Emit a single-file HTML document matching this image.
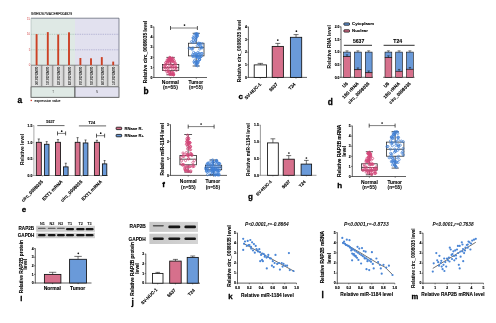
<!DOCTYPE html>
<html><head><meta charset="utf-8"><style>
html,body{margin:0;padding:0;background:#fff;width:496px;height:323px;overflow:hidden}
svg{display:block;will-change:transform;filter:blur(0.3px)}
text{font-family:"Liberation Sans", sans-serif}
</style></head><body>
<svg width="496" height="323" viewBox="0 0 496 323">
<defs>
<linearGradient id="gbox" x1="0" x2="1" y1="0" y2="0">
<stop offset="0" stop-color="#b4b4b4"/><stop offset="0.14" stop-color="#e0e0e0"/><stop offset="0.5" stop-color="#e8e8e8"/><stop offset="0.85" stop-color="#d4d4d4"/><stop offset="1" stop-color="#a8a8a8"/>
</linearGradient>
<linearGradient id="blot" x1="0" x2="1" y1="0" y2="0">
<stop offset="0" stop-color="#c8c8c8"/><stop offset="1" stop-color="#d4d4d4"/>
</linearGradient>
<filter id="blur" x="-30%" y="-80%" width="160%" height="260%"><feGaussianBlur stdDeviation="0.45"/></filter>
</defs>
<rect x="31.00" y="18.20" width="44.00" height="47.10" fill="#dfe9e5" stroke="none" stroke-width="0.6"/>
<rect x="75.00" y="18.20" width="44.00" height="47.10" fill="#e2e1ef" stroke="none" stroke-width="0.6"/>
<line x1="31.00" y1="49.80" x2="75.00" y2="49.80" stroke="#7fae9c" stroke-width="0.45" stroke-dasharray="1.4,0.9"/>
<line x1="75.00" y1="49.80" x2="119.00" y2="49.80" stroke="#8484b8" stroke-width="0.45" stroke-dasharray="1.4,0.9"/>
<line x1="31.00" y1="34.30" x2="75.00" y2="34.30" stroke="#7fae9c" stroke-width="0.45" stroke-dasharray="1.4,0.9"/>
<line x1="75.00" y1="34.30" x2="119.00" y2="34.30" stroke="#8484b8" stroke-width="0.45" stroke-dasharray="1.4,0.9"/>
<line x1="31.00" y1="18.20" x2="119.00" y2="18.20" stroke="#555a6a" stroke-width="0.7"/>
<line x1="119.00" y1="18.20" x2="119.00" y2="65.30" stroke="#555a6a" stroke-width="0.7"/>
<line x1="31.00" y1="18.20" x2="31.00" y2="65.30" stroke="#9aa" stroke-width="0.5"/>
<line x1="31.00" y1="65.30" x2="119.00" y2="65.30" stroke="#444" stroke-width="0.8"/>
<text x="30.20" y="66.30" font-size="2.8" text-anchor="end" font-weight="normal" fill="#d04040">0</text>
<text x="30.20" y="50.80" font-size="2.8" text-anchor="end" font-weight="normal" fill="#d04040">5</text>
<text x="30.20" y="35.30" font-size="2.8" text-anchor="end" font-weight="normal" fill="#d04040">10</text>
<text x="30.20" y="19.80" font-size="2.8" text-anchor="end" font-weight="normal" fill="#d04040">15</text>
<text x="31.00" y="15.10" font-size="3.45" text-anchor="start" font-weight="normal" fill="#111" stroke="#111" stroke-width="0.1">GSE92675/ACERP004929</text>
<rect x="35.65" y="34.10" width="1.90" height="31.20" fill="#cc4125" stroke="none" stroke-width="0.6"/>
<rect x="46.85" y="32.10" width="1.90" height="33.20" fill="#cc4125" stroke="none" stroke-width="0.6"/>
<rect x="57.25" y="34.50" width="1.90" height="30.80" fill="#cc4125" stroke="none" stroke-width="0.6"/>
<rect x="68.05" y="32.30" width="1.90" height="33.00" fill="#cc4125" stroke="none" stroke-width="0.6"/>
<rect x="79.45" y="58.00" width="1.90" height="7.30" fill="#cc4125" stroke="none" stroke-width="0.6"/>
<rect x="90.05" y="58.30" width="1.90" height="7.00" fill="#cc4125" stroke="none" stroke-width="0.6"/>
<rect x="100.85" y="57.10" width="1.90" height="8.20" fill="#cc4125" stroke="none" stroke-width="0.6"/>
<rect x="112.25" y="61.60" width="1.90" height="3.70" fill="#cc4125" stroke="none" stroke-width="0.6"/>
<rect x="31.00" y="65.7" width="11" height="20.4" fill="url(#gbox)"/>
<line x1="42.00" y1="65.70" x2="42.00" y2="86.10" stroke="#555" stroke-width="0.6"/>
<text x="35.10" y="75.90" font-size="3.0" text-anchor="middle" font-weight="normal" fill="#222" stroke="#222" stroke-width="0.08" transform="rotate(90 35.10 75.90)">GSM2434100</text>
<rect x="42.00" y="65.7" width="11" height="20.4" fill="url(#gbox)"/>
<line x1="53.00" y1="65.70" x2="53.00" y2="86.10" stroke="#555" stroke-width="0.6"/>
<text x="46.10" y="75.90" font-size="3.0" text-anchor="middle" font-weight="normal" fill="#222" stroke="#222" stroke-width="0.08" transform="rotate(90 46.10 75.90)">GSM2434101</text>
<rect x="53.00" y="65.7" width="11" height="20.4" fill="url(#gbox)"/>
<line x1="64.00" y1="65.70" x2="64.00" y2="86.10" stroke="#555" stroke-width="0.6"/>
<text x="57.10" y="75.90" font-size="3.0" text-anchor="middle" font-weight="normal" fill="#222" stroke="#222" stroke-width="0.08" transform="rotate(90 57.10 75.90)">GSM2434102</text>
<rect x="64.00" y="65.7" width="11" height="20.4" fill="url(#gbox)"/>
<line x1="75.00" y1="65.70" x2="75.00" y2="86.10" stroke="#555" stroke-width="0.6"/>
<text x="68.10" y="75.90" font-size="3.0" text-anchor="middle" font-weight="normal" fill="#222" stroke="#222" stroke-width="0.08" transform="rotate(90 68.10 75.90)">GSM2434103</text>
<rect x="75.00" y="65.7" width="11" height="20.4" fill="url(#gbox)"/>
<line x1="86.00" y1="65.70" x2="86.00" y2="86.10" stroke="#555" stroke-width="0.6"/>
<text x="79.10" y="75.90" font-size="3.0" text-anchor="middle" font-weight="normal" fill="#222" stroke="#222" stroke-width="0.08" transform="rotate(90 79.10 75.90)">GSM2434104</text>
<rect x="86.00" y="65.7" width="11" height="20.4" fill="url(#gbox)"/>
<line x1="97.00" y1="65.70" x2="97.00" y2="86.10" stroke="#555" stroke-width="0.6"/>
<text x="90.10" y="75.90" font-size="3.0" text-anchor="middle" font-weight="normal" fill="#222" stroke="#222" stroke-width="0.08" transform="rotate(90 90.10 75.90)">GSM2434105</text>
<rect x="97.00" y="65.7" width="11" height="20.4" fill="url(#gbox)"/>
<line x1="108.00" y1="65.70" x2="108.00" y2="86.10" stroke="#555" stroke-width="0.6"/>
<text x="101.10" y="75.90" font-size="3.0" text-anchor="middle" font-weight="normal" fill="#222" stroke="#222" stroke-width="0.08" transform="rotate(90 101.10 75.90)">GSM2434106</text>
<rect x="108.00" y="65.7" width="11" height="20.4" fill="url(#gbox)"/>
<line x1="119.00" y1="65.70" x2="119.00" y2="86.10" stroke="#555" stroke-width="0.6"/>
<text x="112.10" y="75.90" font-size="3.0" text-anchor="middle" font-weight="normal" fill="#222" stroke="#222" stroke-width="0.08" transform="rotate(90 112.10 75.90)">GSM2434107</text>
<line x1="31.00" y1="65.70" x2="31.00" y2="86.10" stroke="#777" stroke-width="0.5"/>
<rect x="31.00" y="86.80" width="44.00" height="10.50" fill="#dfe9e5" stroke="#444" stroke-width="0.8"/>
<rect x="75.00" y="86.80" width="44.00" height="10.50" fill="#e2e1ef" stroke="#444" stroke-width="0.8"/>
<text x="53.00" y="93.20" font-size="2.8" text-anchor="middle" font-weight="normal" fill="#444">T</text>
<text x="97.00" y="93.20" font-size="2.8" text-anchor="middle" font-weight="normal" fill="#444">N</text>
<rect x="30.60" y="99.80" width="1.30" height="1.30" fill="#d03020" stroke="none" stroke-width="0.6"/>
<text x="34.60" y="101.60" font-size="3.45" text-anchor="start" font-weight="normal" fill="#111" stroke="#111" stroke-width="0.1">expression value</text>
<text x="19.80" y="102.80" font-size="8.3" text-anchor="middle" font-weight="bold" fill="#000" stroke="#000" stroke-width="0.3">a</text>
<line x1="153.90" y1="26.70" x2="153.90" y2="77.80" stroke="#444" stroke-width="0.85"/>
<line x1="152.80" y1="77.50" x2="153.90" y2="77.50" stroke="#444" stroke-width="0.85"/>
<text x="152.30" y="78.72" font-size="3.4" text-anchor="end" font-weight="bold" fill="#000" stroke="#000" stroke-width="0.15">0</text>
<line x1="152.80" y1="67.40" x2="153.90" y2="67.40" stroke="#444" stroke-width="0.85"/>
<text x="152.30" y="68.62" font-size="3.4" text-anchor="end" font-weight="bold" fill="#000" stroke="#000" stroke-width="0.15">1</text>
<line x1="152.80" y1="57.30" x2="153.90" y2="57.30" stroke="#444" stroke-width="0.85"/>
<text x="152.30" y="58.52" font-size="3.4" text-anchor="end" font-weight="bold" fill="#000" stroke="#000" stroke-width="0.15">2</text>
<line x1="152.80" y1="47.20" x2="153.90" y2="47.20" stroke="#444" stroke-width="0.85"/>
<text x="152.30" y="48.42" font-size="3.4" text-anchor="end" font-weight="bold" fill="#000" stroke="#000" stroke-width="0.15">3</text>
<line x1="152.80" y1="37.10" x2="153.90" y2="37.10" stroke="#444" stroke-width="0.85"/>
<text x="152.30" y="38.32" font-size="3.4" text-anchor="end" font-weight="bold" fill="#000" stroke="#000" stroke-width="0.15">4</text>
<line x1="152.80" y1="27.00" x2="153.90" y2="27.00" stroke="#444" stroke-width="0.85"/>
<text x="152.30" y="28.22" font-size="3.4" text-anchor="end" font-weight="bold" fill="#000" stroke="#000" stroke-width="0.15">5</text>
<line x1="153.60" y1="77.50" x2="207.00" y2="77.50" stroke="#444" stroke-width="0.85"/>
<line x1="170.60" y1="77.50" x2="170.60" y2="78.60" stroke="#444" stroke-width="0.85"/>
<line x1="196.30" y1="77.50" x2="196.30" y2="78.60" stroke="#444" stroke-width="0.85"/>
<text x="146.80" y="51.90" font-size="4.88" text-anchor="middle" font-weight="bold" fill="#000" stroke="#000" stroke-width="0.1" transform="rotate(-90 146.80 51.90)">Relative circ_0008035 level</text>
<line x1="170.60" y1="57.40" x2="170.60" y2="64.40" stroke="#222" stroke-width="0.75"/>
<line x1="170.60" y1="70.60" x2="170.60" y2="74.80" stroke="#222" stroke-width="0.75"/>
<line x1="166.40" y1="57.40" x2="174.80" y2="57.40" stroke="#222" stroke-width="0.75"/>
<line x1="166.40" y1="74.80" x2="174.80" y2="74.80" stroke="#222" stroke-width="0.75"/>
<rect x="162.40" y="64.40" width="16.40" height="6.20" fill="none" stroke="#222" stroke-width="0.75"/>
<line x1="162.40" y1="67.60" x2="178.80" y2="67.60" stroke="#222" stroke-width="0.75"/>
<line x1="196.25" y1="33.30" x2="196.25" y2="43.20" stroke="#222" stroke-width="0.75"/>
<line x1="196.25" y1="55.90" x2="196.25" y2="66.00" stroke="#222" stroke-width="0.75"/>
<line x1="192.65" y1="33.30" x2="199.85" y2="33.30" stroke="#222" stroke-width="0.75"/>
<line x1="192.65" y1="66.00" x2="199.85" y2="66.00" stroke="#222" stroke-width="0.75"/>
<rect x="188.50" y="43.20" width="15.50" height="12.70" fill="none" stroke="#222" stroke-width="0.75"/>
<line x1="188.50" y1="47.40" x2="204.00" y2="47.40" stroke="#222" stroke-width="0.75"/>
<circle cx="171.42" cy="65.36" r="1.1" fill="none" stroke="#d4487a" stroke-width="0.7"/>
<circle cx="170.30" cy="73.67" r="1.1" fill="none" stroke="#d4487a" stroke-width="0.7"/>
<circle cx="171.84" cy="66.34" r="1.1" fill="none" stroke="#d4487a" stroke-width="0.7"/>
<circle cx="170.69" cy="60.65" r="1.1" fill="none" stroke="#d4487a" stroke-width="0.7"/>
<circle cx="174.89" cy="68.49" r="1.1" fill="none" stroke="#d4487a" stroke-width="0.7"/>
<circle cx="169.51" cy="59.06" r="1.1" fill="none" stroke="#d4487a" stroke-width="0.7"/>
<circle cx="172.29" cy="59.00" r="1.1" fill="none" stroke="#d4487a" stroke-width="0.7"/>
<circle cx="164.28" cy="69.60" r="1.1" fill="none" stroke="#d4487a" stroke-width="0.7"/>
<circle cx="173.68" cy="74.69" r="1.1" fill="none" stroke="#d4487a" stroke-width="0.7"/>
<circle cx="172.25" cy="68.91" r="1.1" fill="none" stroke="#d4487a" stroke-width="0.7"/>
<circle cx="167.08" cy="60.17" r="1.1" fill="none" stroke="#d4487a" stroke-width="0.7"/>
<circle cx="164.28" cy="66.70" r="1.1" fill="none" stroke="#d4487a" stroke-width="0.7"/>
<circle cx="168.50" cy="60.75" r="1.1" fill="none" stroke="#d4487a" stroke-width="0.7"/>
<circle cx="170.46" cy="57.93" r="1.1" fill="none" stroke="#d4487a" stroke-width="0.7"/>
<circle cx="175.25" cy="65.15" r="1.1" fill="none" stroke="#d4487a" stroke-width="0.7"/>
<circle cx="172.60" cy="66.54" r="1.1" fill="none" stroke="#d4487a" stroke-width="0.7"/>
<circle cx="172.89" cy="66.20" r="1.1" fill="none" stroke="#d4487a" stroke-width="0.7"/>
<circle cx="167.56" cy="65.45" r="1.1" fill="none" stroke="#d4487a" stroke-width="0.7"/>
<circle cx="173.62" cy="74.96" r="1.1" fill="none" stroke="#d4487a" stroke-width="0.7"/>
<circle cx="173.02" cy="72.19" r="1.1" fill="none" stroke="#d4487a" stroke-width="0.7"/>
<circle cx="167.51" cy="62.95" r="1.1" fill="none" stroke="#d4487a" stroke-width="0.7"/>
<circle cx="165.99" cy="62.49" r="1.1" fill="none" stroke="#d4487a" stroke-width="0.7"/>
<circle cx="169.32" cy="70.89" r="1.1" fill="none" stroke="#d4487a" stroke-width="0.7"/>
<circle cx="169.31" cy="72.30" r="1.1" fill="none" stroke="#d4487a" stroke-width="0.7"/>
<circle cx="173.20" cy="74.26" r="1.1" fill="none" stroke="#d4487a" stroke-width="0.7"/>
<circle cx="169.72" cy="57.41" r="1.1" fill="none" stroke="#d4487a" stroke-width="0.7"/>
<circle cx="170.33" cy="73.42" r="1.1" fill="none" stroke="#d4487a" stroke-width="0.7"/>
<circle cx="169.91" cy="74.65" r="1.1" fill="none" stroke="#d4487a" stroke-width="0.7"/>
<circle cx="171.24" cy="58.69" r="1.1" fill="none" stroke="#d4487a" stroke-width="0.7"/>
<circle cx="167.68" cy="71.10" r="1.1" fill="none" stroke="#d4487a" stroke-width="0.7"/>
<circle cx="169.70" cy="58.93" r="1.1" fill="none" stroke="#d4487a" stroke-width="0.7"/>
<circle cx="172.47" cy="74.37" r="1.1" fill="none" stroke="#d4487a" stroke-width="0.7"/>
<circle cx="169.03" cy="59.48" r="1.1" fill="none" stroke="#d4487a" stroke-width="0.7"/>
<circle cx="168.08" cy="59.18" r="1.1" fill="none" stroke="#d4487a" stroke-width="0.7"/>
<circle cx="166.59" cy="71.43" r="1.1" fill="none" stroke="#d4487a" stroke-width="0.7"/>
<circle cx="169.83" cy="67.24" r="1.1" fill="none" stroke="#d4487a" stroke-width="0.7"/>
<circle cx="172.49" cy="60.76" r="1.1" fill="none" stroke="#d4487a" stroke-width="0.7"/>
<circle cx="171.54" cy="59.71" r="1.1" fill="none" stroke="#d4487a" stroke-width="0.7"/>
<circle cx="170.11" cy="59.45" r="1.1" fill="none" stroke="#d4487a" stroke-width="0.7"/>
<circle cx="168.59" cy="61.15" r="1.1" fill="none" stroke="#d4487a" stroke-width="0.7"/>
<circle cx="172.73" cy="74.49" r="1.1" fill="none" stroke="#d4487a" stroke-width="0.7"/>
<circle cx="174.88" cy="62.75" r="1.1" fill="none" stroke="#d4487a" stroke-width="0.7"/>
<circle cx="169.68" cy="61.11" r="1.1" fill="none" stroke="#d4487a" stroke-width="0.7"/>
<circle cx="172.18" cy="72.44" r="1.1" fill="none" stroke="#d4487a" stroke-width="0.7"/>
<circle cx="173.40" cy="59.17" r="1.1" fill="none" stroke="#d4487a" stroke-width="0.7"/>
<circle cx="168.49" cy="61.15" r="1.1" fill="none" stroke="#d4487a" stroke-width="0.7"/>
<circle cx="168.42" cy="71.00" r="1.1" fill="none" stroke="#d4487a" stroke-width="0.7"/>
<circle cx="165.94" cy="62.62" r="1.1" fill="none" stroke="#d4487a" stroke-width="0.7"/>
<circle cx="171.05" cy="58.99" r="1.1" fill="none" stroke="#d4487a" stroke-width="0.7"/>
<circle cx="171.56" cy="61.68" r="1.1" fill="none" stroke="#d4487a" stroke-width="0.7"/>
<circle cx="170.00" cy="63.94" r="1.1" fill="none" stroke="#d4487a" stroke-width="0.7"/>
<circle cx="170.48" cy="74.28" r="1.1" fill="none" stroke="#d4487a" stroke-width="0.7"/>
<circle cx="176.01" cy="67.51" r="1.1" fill="none" stroke="#d4487a" stroke-width="0.7"/>
<circle cx="167.86" cy="60.62" r="1.1" fill="none" stroke="#d4487a" stroke-width="0.7"/>
<circle cx="173.53" cy="73.39" r="1.1" fill="none" stroke="#d4487a" stroke-width="0.7"/>
<circle cx="167.60" cy="61.79" r="1.1" fill="none" stroke="#d4487a" stroke-width="0.7"/>
<circle cx="176.41" cy="70.41" r="1.1" fill="none" stroke="#d4487a" stroke-width="0.7"/>
<circle cx="174.33" cy="60.86" r="1.1" fill="none" stroke="#d4487a" stroke-width="0.7"/>
<circle cx="171.65" cy="72.93" r="1.1" fill="none" stroke="#d4487a" stroke-width="0.7"/>
<circle cx="165.29" cy="64.82" r="1.1" fill="none" stroke="#d4487a" stroke-width="0.7"/>
<circle cx="172.47" cy="58.08" r="1.1" fill="none" stroke="#d4487a" stroke-width="0.7"/>
<circle cx="172.52" cy="61.60" r="1.1" fill="none" stroke="#d4487a" stroke-width="0.7"/>
<circle cx="173.80" cy="61.92" r="1.1" fill="none" stroke="#d4487a" stroke-width="0.7"/>
<circle cx="167.51" cy="67.90" r="1.1" fill="none" stroke="#d4487a" stroke-width="0.7"/>
<circle cx="172.30" cy="60.49" r="1.1" fill="none" stroke="#d4487a" stroke-width="0.7"/>
<circle cx="169.28" cy="58.61" r="1.1" fill="none" stroke="#d4487a" stroke-width="0.7"/>
<circle cx="175.75" cy="67.24" r="1.1" fill="none" stroke="#d4487a" stroke-width="0.7"/>
<circle cx="167.34" cy="68.21" r="1.1" fill="none" stroke="#d4487a" stroke-width="0.7"/>
<circle cx="167.96" cy="73.55" r="1.1" fill="none" stroke="#d4487a" stroke-width="0.7"/>
<circle cx="169.80" cy="57.69" r="1.1" fill="none" stroke="#d4487a" stroke-width="0.7"/>
<circle cx="164.61" cy="65.24" r="1.1" fill="none" stroke="#d4487a" stroke-width="0.7"/>
<circle cx="169.58" cy="60.50" r="1.1" fill="none" stroke="#d4487a" stroke-width="0.7"/>
<circle cx="165.17" cy="67.47" r="1.1" fill="none" stroke="#d4487a" stroke-width="0.7"/>
<circle cx="175.55" cy="63.77" r="1.1" fill="none" stroke="#d4487a" stroke-width="0.7"/>
<circle cx="171.65" cy="74.66" r="1.1" fill="none" stroke="#d4487a" stroke-width="0.7"/>
<circle cx="197.24" cy="55.90" r="1.1" fill="none" stroke="#3f7fd6" stroke-width="0.7"/>
<circle cx="193.18" cy="37.89" r="1.1" fill="none" stroke="#3f7fd6" stroke-width="0.7"/>
<circle cx="197.73" cy="33.89" r="1.1" fill="none" stroke="#3f7fd6" stroke-width="0.7"/>
<circle cx="201.29" cy="56.22" r="1.1" fill="none" stroke="#3f7fd6" stroke-width="0.7"/>
<circle cx="196.79" cy="34.00" r="1.1" fill="none" stroke="#3f7fd6" stroke-width="0.7"/>
<circle cx="199.76" cy="49.07" r="1.1" fill="none" stroke="#3f7fd6" stroke-width="0.7"/>
<circle cx="202.37" cy="43.73" r="1.1" fill="none" stroke="#3f7fd6" stroke-width="0.7"/>
<circle cx="196.53" cy="35.76" r="1.1" fill="none" stroke="#3f7fd6" stroke-width="0.7"/>
<circle cx="200.14" cy="57.40" r="1.1" fill="none" stroke="#3f7fd6" stroke-width="0.7"/>
<circle cx="198.25" cy="57.40" r="1.1" fill="none" stroke="#3f7fd6" stroke-width="0.7"/>
<circle cx="199.52" cy="59.24" r="1.1" fill="none" stroke="#3f7fd6" stroke-width="0.7"/>
<circle cx="198.80" cy="44.80" r="1.1" fill="none" stroke="#3f7fd6" stroke-width="0.7"/>
<circle cx="198.01" cy="62.76" r="1.1" fill="none" stroke="#3f7fd6" stroke-width="0.7"/>
<circle cx="200.66" cy="46.94" r="1.1" fill="none" stroke="#3f7fd6" stroke-width="0.7"/>
<circle cx="196.70" cy="61.54" r="1.1" fill="none" stroke="#3f7fd6" stroke-width="0.7"/>
<circle cx="194.74" cy="53.74" r="1.1" fill="none" stroke="#3f7fd6" stroke-width="0.7"/>
<circle cx="197.89" cy="52.35" r="1.1" fill="none" stroke="#3f7fd6" stroke-width="0.7"/>
<circle cx="197.01" cy="35.92" r="1.1" fill="none" stroke="#3f7fd6" stroke-width="0.7"/>
<circle cx="197.48" cy="65.78" r="1.1" fill="none" stroke="#3f7fd6" stroke-width="0.7"/>
<circle cx="195.20" cy="57.11" r="1.1" fill="none" stroke="#3f7fd6" stroke-width="0.7"/>
<circle cx="197.08" cy="57.34" r="1.1" fill="none" stroke="#3f7fd6" stroke-width="0.7"/>
<circle cx="201.38" cy="47.71" r="1.1" fill="none" stroke="#3f7fd6" stroke-width="0.7"/>
<circle cx="197.61" cy="36.04" r="1.1" fill="none" stroke="#3f7fd6" stroke-width="0.7"/>
<circle cx="196.68" cy="34.27" r="1.1" fill="none" stroke="#3f7fd6" stroke-width="0.7"/>
<circle cx="192.25" cy="49.03" r="1.1" fill="none" stroke="#3f7fd6" stroke-width="0.7"/>
<circle cx="196.27" cy="56.14" r="1.1" fill="none" stroke="#3f7fd6" stroke-width="0.7"/>
<circle cx="202.02" cy="53.39" r="1.1" fill="none" stroke="#3f7fd6" stroke-width="0.7"/>
<circle cx="191.54" cy="41.67" r="1.1" fill="none" stroke="#3f7fd6" stroke-width="0.7"/>
<circle cx="198.34" cy="43.14" r="1.1" fill="none" stroke="#3f7fd6" stroke-width="0.7"/>
<circle cx="193.54" cy="39.92" r="1.1" fill="none" stroke="#3f7fd6" stroke-width="0.7"/>
<circle cx="197.03" cy="62.92" r="1.1" fill="none" stroke="#3f7fd6" stroke-width="0.7"/>
<circle cx="202.18" cy="47.75" r="1.1" fill="none" stroke="#3f7fd6" stroke-width="0.7"/>
<circle cx="198.37" cy="43.99" r="1.1" fill="none" stroke="#3f7fd6" stroke-width="0.7"/>
<circle cx="195.73" cy="39.79" r="1.1" fill="none" stroke="#3f7fd6" stroke-width="0.7"/>
<circle cx="199.34" cy="59.66" r="1.1" fill="none" stroke="#3f7fd6" stroke-width="0.7"/>
<circle cx="195.73" cy="62.08" r="1.1" fill="none" stroke="#3f7fd6" stroke-width="0.7"/>
<circle cx="193.61" cy="52.37" r="1.1" fill="none" stroke="#3f7fd6" stroke-width="0.7"/>
<circle cx="196.28" cy="37.75" r="1.1" fill="none" stroke="#3f7fd6" stroke-width="0.7"/>
<circle cx="198.51" cy="60.67" r="1.1" fill="none" stroke="#3f7fd6" stroke-width="0.7"/>
<circle cx="201.00" cy="56.56" r="1.1" fill="none" stroke="#3f7fd6" stroke-width="0.7"/>
<circle cx="192.85" cy="42.35" r="1.1" fill="none" stroke="#3f7fd6" stroke-width="0.7"/>
<circle cx="192.93" cy="48.04" r="1.1" fill="none" stroke="#3f7fd6" stroke-width="0.7"/>
<circle cx="195.56" cy="40.30" r="1.1" fill="none" stroke="#3f7fd6" stroke-width="0.7"/>
<circle cx="196.22" cy="53.76" r="1.1" fill="none" stroke="#3f7fd6" stroke-width="0.7"/>
<circle cx="200.37" cy="43.61" r="1.1" fill="none" stroke="#3f7fd6" stroke-width="0.7"/>
<circle cx="196.14" cy="65.41" r="1.1" fill="none" stroke="#3f7fd6" stroke-width="0.7"/>
<circle cx="193.97" cy="35.74" r="1.1" fill="none" stroke="#3f7fd6" stroke-width="0.7"/>
<circle cx="193.93" cy="61.84" r="1.1" fill="none" stroke="#3f7fd6" stroke-width="0.7"/>
<circle cx="197.04" cy="56.47" r="1.1" fill="none" stroke="#3f7fd6" stroke-width="0.7"/>
<circle cx="199.73" cy="43.41" r="1.1" fill="none" stroke="#3f7fd6" stroke-width="0.7"/>
<circle cx="195.02" cy="33.93" r="1.1" fill="none" stroke="#3f7fd6" stroke-width="0.7"/>
<circle cx="189.17" cy="48.17" r="1.1" fill="none" stroke="#3f7fd6" stroke-width="0.7"/>
<circle cx="194.57" cy="60.43" r="1.1" fill="none" stroke="#3f7fd6" stroke-width="0.7"/>
<circle cx="193.25" cy="37.91" r="1.1" fill="none" stroke="#3f7fd6" stroke-width="0.7"/>
<circle cx="195.60" cy="53.87" r="1.1" fill="none" stroke="#3f7fd6" stroke-width="0.7"/>
<circle cx="198.33" cy="53.90" r="1.1" fill="none" stroke="#3f7fd6" stroke-width="0.7"/>
<circle cx="199.65" cy="59.70" r="1.1" fill="none" stroke="#3f7fd6" stroke-width="0.7"/>
<circle cx="192.90" cy="55.68" r="1.1" fill="none" stroke="#3f7fd6" stroke-width="0.7"/>
<circle cx="191.48" cy="48.84" r="1.1" fill="none" stroke="#3f7fd6" stroke-width="0.7"/>
<circle cx="196.21" cy="33.65" r="1.1" fill="none" stroke="#3f7fd6" stroke-width="0.7"/>
<circle cx="192.98" cy="56.65" r="1.1" fill="none" stroke="#3f7fd6" stroke-width="0.7"/>
<circle cx="194.72" cy="42.21" r="1.1" fill="none" stroke="#3f7fd6" stroke-width="0.7"/>
<circle cx="196.52" cy="56.10" r="1.1" fill="none" stroke="#3f7fd6" stroke-width="0.7"/>
<circle cx="199.79" cy="53.39" r="1.1" fill="none" stroke="#3f7fd6" stroke-width="0.7"/>
<circle cx="200.68" cy="46.17" r="1.1" fill="none" stroke="#3f7fd6" stroke-width="0.7"/>
<circle cx="194.43" cy="62.93" r="1.1" fill="none" stroke="#3f7fd6" stroke-width="0.7"/>
<circle cx="197.21" cy="63.80" r="1.1" fill="none" stroke="#3f7fd6" stroke-width="0.7"/>
<circle cx="196.00" cy="37.55" r="1.1" fill="none" stroke="#3f7fd6" stroke-width="0.7"/>
<circle cx="201.73" cy="53.76" r="1.1" fill="none" stroke="#3f7fd6" stroke-width="0.7"/>
<circle cx="197.30" cy="45.62" r="1.1" fill="none" stroke="#3f7fd6" stroke-width="0.7"/>
<circle cx="197.78" cy="62.05" r="1.1" fill="none" stroke="#3f7fd6" stroke-width="0.7"/>
<circle cx="196.16" cy="64.18" r="1.1" fill="none" stroke="#3f7fd6" stroke-width="0.7"/>
<circle cx="192.64" cy="54.60" r="1.1" fill="none" stroke="#3f7fd6" stroke-width="0.7"/>
<circle cx="199.51" cy="56.91" r="1.1" fill="none" stroke="#3f7fd6" stroke-width="0.7"/>
<circle cx="199.07" cy="54.28" r="1.1" fill="none" stroke="#3f7fd6" stroke-width="0.7"/>
<line x1="170.50" y1="28.00" x2="197.40" y2="28.00" stroke="#555" stroke-width="0.75"/>
<line x1="170.50" y1="26.00" x2="170.50" y2="30.00" stroke="#222" stroke-width="0.75"/>
<line x1="197.40" y1="26.00" x2="197.40" y2="30.00" stroke="#222" stroke-width="0.75"/>
<circle cx="184.50" cy="25.10" r="0.85" fill="#111" stroke="none" stroke-width="0.4"/>
<text x="170.40" y="84.30" font-size="5.0" text-anchor="middle" font-weight="bold" fill="#000" stroke="#000" stroke-width="0.08">Normal</text>
<text x="170.40" y="89.10" font-size="5.0" text-anchor="middle" font-weight="bold" fill="#000" stroke="#000" stroke-width="0.05">(n=55)</text>
<text x="195.90" y="84.30" font-size="4.8" text-anchor="middle" font-weight="bold" fill="#000" stroke="#000" stroke-width="0.08">Tumor</text>
<text x="195.90" y="89.10" font-size="4.7" text-anchor="middle" font-weight="bold" fill="#000" stroke="#000" stroke-width="0.05">(n=55)</text>
<text x="146.00" y="94.10" font-size="8.3" text-anchor="middle" font-weight="bold" fill="#000" stroke="#000" stroke-width="0.3">b</text>
<line x1="248.40" y1="26.70" x2="248.40" y2="77.70" stroke="#444" stroke-width="0.85"/>
<line x1="247.30" y1="77.40" x2="248.40" y2="77.40" stroke="#444" stroke-width="0.85"/>
<text x="246.80" y="78.62" font-size="3.4" text-anchor="end" font-weight="bold" fill="#000" stroke="#000" stroke-width="0.15">0</text>
<line x1="247.30" y1="64.80" x2="248.40" y2="64.80" stroke="#444" stroke-width="0.85"/>
<text x="246.80" y="66.02" font-size="3.4" text-anchor="end" font-weight="bold" fill="#000" stroke="#000" stroke-width="0.15">1</text>
<line x1="247.30" y1="52.20" x2="248.40" y2="52.20" stroke="#444" stroke-width="0.85"/>
<text x="246.80" y="53.42" font-size="3.4" text-anchor="end" font-weight="bold" fill="#000" stroke="#000" stroke-width="0.15">2</text>
<line x1="247.30" y1="39.60" x2="248.40" y2="39.60" stroke="#444" stroke-width="0.85"/>
<text x="246.80" y="40.82" font-size="3.4" text-anchor="end" font-weight="bold" fill="#000" stroke="#000" stroke-width="0.15">3</text>
<line x1="247.30" y1="27.00" x2="248.40" y2="27.00" stroke="#444" stroke-width="0.85"/>
<text x="246.80" y="28.22" font-size="3.4" text-anchor="end" font-weight="bold" fill="#000" stroke="#000" stroke-width="0.15">4</text>
<line x1="248.10" y1="77.40" x2="307.00" y2="77.40" stroke="#444" stroke-width="0.85"/>
<line x1="260.30" y1="77.40" x2="260.30" y2="78.50" stroke="#444" stroke-width="0.85"/>
<line x1="277.80" y1="77.40" x2="277.80" y2="78.50" stroke="#444" stroke-width="0.85"/>
<line x1="296.00" y1="77.40" x2="296.00" y2="78.50" stroke="#444" stroke-width="0.85"/>
<text x="241.40" y="51.00" font-size="4.88" text-anchor="middle" font-weight="bold" fill="#000" stroke="#000" stroke-width="0.05" transform="rotate(-90 241.40 51.00)">Relative circ_0008035 level</text>
<line x1="260.35" y1="64.90" x2="260.35" y2="63.40" stroke="#111" stroke-width="0.6"/>
<line x1="257.64" y1="63.40" x2="263.06" y2="63.40" stroke="#111" stroke-width="0.6"/>
<rect x="254.20" y="64.90" width="12.30" height="12.50" fill="#fff" stroke="#111" stroke-width="0.85"/>
<line x1="277.80" y1="46.40" x2="277.80" y2="43.40" stroke="#111" stroke-width="0.6"/>
<line x1="275.34" y1="43.40" x2="280.26" y2="43.40" stroke="#111" stroke-width="0.6"/>
<rect x="272.20" y="46.40" width="11.20" height="31.00" fill="#d6708c" stroke="#111" stroke-width="0.85"/>
<line x1="296.05" y1="37.30" x2="296.05" y2="34.60" stroke="#111" stroke-width="0.6"/>
<line x1="293.56" y1="34.60" x2="298.54" y2="34.60" stroke="#111" stroke-width="0.6"/>
<rect x="290.40" y="37.30" width="11.30" height="40.10" fill="#6a9ad9" stroke="#111" stroke-width="0.85"/>
<circle cx="277.80" cy="40.10" r="0.85" fill="#111" stroke="none" stroke-width="0.4"/>
<circle cx="296.40" cy="31.20" r="0.85" fill="#111" stroke="none" stroke-width="0.4"/>
<text x="261.60" y="84.60" font-size="4.6" text-anchor="end" font-weight="bold" fill="#000" stroke="#000" stroke-width="0.12" transform="rotate(-45 261.60 84.60)">SV-HUC-1</text>
<text x="278.20" y="84.60" font-size="4.6" text-anchor="end" font-weight="bold" fill="#000" stroke="#000" stroke-width="0.12" transform="rotate(-45 278.20 84.60)">5637</text>
<text x="295.80" y="84.60" font-size="4.6" text-anchor="end" font-weight="bold" fill="#000" stroke="#000" stroke-width="0.12" transform="rotate(-45 295.80 84.60)">T24</text>
<text x="240.70" y="99.00" font-size="8" text-anchor="middle" font-weight="bold" fill="#000" stroke="#000" stroke-width="0.3">c</text>
<line x1="341.00" y1="26.60" x2="341.00" y2="77.60" stroke="#444" stroke-width="0.85"/>
<line x1="339.90" y1="77.30" x2="341.00" y2="77.30" stroke="#444" stroke-width="0.85"/>
<text x="339.40" y="78.52" font-size="3.4" text-anchor="end" font-weight="bold" fill="#000" stroke="#000" stroke-width="0.15">0.0</text>
<line x1="339.90" y1="64.70" x2="341.00" y2="64.70" stroke="#444" stroke-width="0.85"/>
<text x="339.40" y="65.92" font-size="3.4" text-anchor="end" font-weight="bold" fill="#000" stroke="#000" stroke-width="0.15">0.5</text>
<line x1="339.90" y1="52.10" x2="341.00" y2="52.10" stroke="#444" stroke-width="0.85"/>
<text x="339.40" y="53.32" font-size="3.4" text-anchor="end" font-weight="bold" fill="#000" stroke="#000" stroke-width="0.15">1.0</text>
<line x1="339.90" y1="39.50" x2="341.00" y2="39.50" stroke="#444" stroke-width="0.85"/>
<text x="339.40" y="40.72" font-size="3.4" text-anchor="end" font-weight="bold" fill="#000" stroke="#000" stroke-width="0.15">1.5</text>
<line x1="339.90" y1="26.90" x2="341.00" y2="26.90" stroke="#444" stroke-width="0.85"/>
<text x="339.40" y="28.12" font-size="3.4" text-anchor="end" font-weight="bold" fill="#000" stroke="#000" stroke-width="0.15">2.0</text>
<line x1="340.70" y1="77.30" x2="373.00" y2="77.30" stroke="#444" stroke-width="0.85"/>
<line x1="383.20" y1="77.30" x2="414.50" y2="77.30" stroke="#444" stroke-width="0.85"/>
<text x="330.60" y="46.80" font-size="4.95" text-anchor="middle" font-weight="bold" fill="#000" transform="rotate(-90 330.60 46.80)">Relative RNA level</text>
<rect x="343.90" y="22.90" width="5.60" height="2.30" fill="#6a9ad9" stroke="#000" stroke-width="0.75" rx="0.6"/>
<text x="352.10" y="25.40" font-size="4.3" text-anchor="start" font-weight="bold" fill="#000" stroke="#000" stroke-width="0.1">Cytoplasm</text>
<rect x="343.90" y="29.80" width="5.60" height="2.30" fill="#d6708c" stroke="#000" stroke-width="0.75" rx="0.6"/>
<text x="352.10" y="32.40" font-size="4.3" text-anchor="start" font-weight="bold" fill="#000" stroke="#000" stroke-width="0.1">Nuclear</text>
<text x="358.60" y="42.90" font-size="5.1" text-anchor="middle" font-weight="bold" fill="#000" stroke="#000" stroke-width="0.1">5637</text>
<line x1="343.90" y1="45.30" x2="372.00" y2="45.30" stroke="#222" stroke-width="0.95"/>
<text x="397.80" y="42.90" font-size="5.2" text-anchor="middle" font-weight="bold" fill="#000" stroke="#000" stroke-width="0.1">T24</text>
<line x1="383.60" y1="45.30" x2="414.60" y2="45.30" stroke="#222" stroke-width="0.95"/>
<line x1="347.00" y1="52.10" x2="347.00" y2="50.80" stroke="#111" stroke-width="0.5"/>
<line x1="345.50" y1="50.80" x2="348.50" y2="50.80" stroke="#111" stroke-width="0.5"/>
<rect x="343.60" y="52.10" width="6.80" height="4.54" fill="#6a9ad9" stroke="#111" stroke-width="0.6"/>
<rect x="343.60" y="56.64" width="6.80" height="20.66" fill="#d6708c" stroke="#111" stroke-width="0.6"/>
<line x1="347.00" y1="56.64" x2="347.00" y2="54.84" stroke="#111" stroke-width="0.5"/>
<line x1="345.80" y1="54.84" x2="348.20" y2="54.84" stroke="#111" stroke-width="0.5"/>
<line x1="357.90" y1="52.10" x2="357.90" y2="50.80" stroke="#111" stroke-width="0.5"/>
<line x1="356.40" y1="50.80" x2="359.40" y2="50.80" stroke="#111" stroke-width="0.5"/>
<rect x="354.50" y="52.10" width="6.80" height="17.64" fill="#6a9ad9" stroke="#111" stroke-width="0.6"/>
<rect x="354.50" y="69.74" width="6.80" height="7.56" fill="#d6708c" stroke="#111" stroke-width="0.6"/>
<line x1="357.90" y1="69.74" x2="357.90" y2="67.94" stroke="#111" stroke-width="0.5"/>
<line x1="356.70" y1="67.94" x2="359.10" y2="67.94" stroke="#111" stroke-width="0.5"/>
<line x1="368.70" y1="52.10" x2="368.70" y2="50.80" stroke="#111" stroke-width="0.5"/>
<line x1="367.20" y1="50.80" x2="370.20" y2="50.80" stroke="#111" stroke-width="0.5"/>
<rect x="365.30" y="52.10" width="6.80" height="20.66" fill="#6a9ad9" stroke="#111" stroke-width="0.6"/>
<rect x="365.30" y="72.76" width="6.80" height="4.54" fill="#d6708c" stroke="#111" stroke-width="0.6"/>
<line x1="368.70" y1="72.76" x2="368.70" y2="70.96" stroke="#111" stroke-width="0.5"/>
<line x1="367.50" y1="70.96" x2="369.90" y2="70.96" stroke="#111" stroke-width="0.5"/>
<line x1="388.40" y1="52.10" x2="388.40" y2="50.80" stroke="#111" stroke-width="0.5"/>
<line x1="386.90" y1="50.80" x2="389.90" y2="50.80" stroke="#111" stroke-width="0.5"/>
<rect x="385.00" y="52.10" width="6.80" height="5.54" fill="#6a9ad9" stroke="#111" stroke-width="0.6"/>
<rect x="385.00" y="57.64" width="6.80" height="19.66" fill="#d6708c" stroke="#111" stroke-width="0.6"/>
<line x1="388.40" y1="57.64" x2="388.40" y2="55.84" stroke="#111" stroke-width="0.5"/>
<line x1="387.20" y1="55.84" x2="389.60" y2="55.84" stroke="#111" stroke-width="0.5"/>
<line x1="399.10" y1="52.10" x2="399.10" y2="50.80" stroke="#111" stroke-width="0.5"/>
<line x1="397.60" y1="50.80" x2="400.60" y2="50.80" stroke="#111" stroke-width="0.5"/>
<rect x="395.70" y="52.10" width="6.80" height="19.15" fill="#6a9ad9" stroke="#111" stroke-width="0.6"/>
<rect x="395.70" y="71.25" width="6.80" height="6.05" fill="#d6708c" stroke="#111" stroke-width="0.6"/>
<line x1="399.10" y1="71.25" x2="399.10" y2="69.45" stroke="#111" stroke-width="0.5"/>
<line x1="397.90" y1="69.45" x2="400.30" y2="69.45" stroke="#111" stroke-width="0.5"/>
<line x1="409.90" y1="52.10" x2="409.90" y2="50.80" stroke="#111" stroke-width="0.5"/>
<line x1="408.40" y1="50.80" x2="411.40" y2="50.80" stroke="#111" stroke-width="0.5"/>
<rect x="406.50" y="52.10" width="6.80" height="17.14" fill="#6a9ad9" stroke="#111" stroke-width="0.6"/>
<rect x="406.50" y="69.24" width="6.80" height="8.06" fill="#d6708c" stroke="#111" stroke-width="0.6"/>
<line x1="409.90" y1="69.24" x2="409.90" y2="67.44" stroke="#111" stroke-width="0.5"/>
<line x1="408.70" y1="67.44" x2="411.10" y2="67.44" stroke="#111" stroke-width="0.5"/>
<text x="348.20" y="83.90" font-size="4.6" text-anchor="end" font-weight="bold" fill="#000" stroke="#000" stroke-width="0.12" transform="rotate(-45 348.20 83.90)">U6</text>
<text x="359.10" y="83.90" font-size="4.6" text-anchor="end" font-weight="bold" fill="#000" stroke="#000" stroke-width="0.12" transform="rotate(-45 359.10 83.90)">18S rRNA</text>
<text x="369.90" y="83.90" font-size="4.6" text-anchor="end" font-weight="bold" fill="#000" stroke="#000" stroke-width="0.12" transform="rotate(-45 369.90 83.90)">circ_0008035</text>
<text x="389.60" y="83.90" font-size="4.6" text-anchor="end" font-weight="bold" fill="#000" stroke="#000" stroke-width="0.12" transform="rotate(-45 389.60 83.90)">U6</text>
<text x="400.30" y="83.90" font-size="4.6" text-anchor="end" font-weight="bold" fill="#000" stroke="#000" stroke-width="0.12" transform="rotate(-45 400.30 83.90)">18S rRNA</text>
<text x="411.10" y="83.90" font-size="4.6" text-anchor="end" font-weight="bold" fill="#000" stroke="#000" stroke-width="0.12" transform="rotate(-45 411.10 83.90)">circ_0008035</text>
<text x="330.40" y="104.80" font-size="8.3" text-anchor="middle" font-weight="bold" fill="#000" stroke="#000" stroke-width="0.3">d</text>
<line x1="33.90" y1="125.40" x2="33.90" y2="175.80" stroke="#999" stroke-width="0.85"/>
<line x1="32.80" y1="175.50" x2="33.90" y2="175.50" stroke="#999" stroke-width="0.85"/>
<text x="32.30" y="176.72" font-size="3.4" text-anchor="end" font-weight="bold" fill="#000" stroke="#000" stroke-width="0.15">0.0</text>
<line x1="32.80" y1="158.90" x2="33.90" y2="158.90" stroke="#999" stroke-width="0.85"/>
<text x="32.30" y="160.12" font-size="3.4" text-anchor="end" font-weight="bold" fill="#000" stroke="#000" stroke-width="0.15">0.5</text>
<line x1="32.80" y1="142.30" x2="33.90" y2="142.30" stroke="#999" stroke-width="0.85"/>
<text x="32.30" y="143.52" font-size="3.4" text-anchor="end" font-weight="bold" fill="#000" stroke="#000" stroke-width="0.15">1.0</text>
<line x1="32.80" y1="125.70" x2="33.90" y2="125.70" stroke="#999" stroke-width="0.85"/>
<text x="32.30" y="126.92" font-size="3.4" text-anchor="end" font-weight="bold" fill="#000" stroke="#000" stroke-width="0.15">1.5</text>
<line x1="33.60" y1="175.50" x2="108.00" y2="175.50" stroke="#999" stroke-width="0.85"/>
<line x1="42.60" y1="175.50" x2="42.60" y2="176.60" stroke="#999" stroke-width="0.85"/>
<line x1="62.00" y1="175.50" x2="62.00" y2="176.60" stroke="#999" stroke-width="0.85"/>
<line x1="81.60" y1="175.50" x2="81.60" y2="176.60" stroke="#999" stroke-width="0.85"/>
<line x1="101.10" y1="175.50" x2="101.10" y2="176.60" stroke="#999" stroke-width="0.85"/>
<text x="24.40" y="149.50" font-size="4.9" text-anchor="middle" font-weight="bold" fill="#000" transform="rotate(-90 24.40 149.50)">Relative level</text>
<line x1="38.80" y1="142.30" x2="38.80" y2="138.98" stroke="#111" stroke-width="0.6"/>
<line x1="37.70" y1="138.98" x2="39.90" y2="138.98" stroke="#111" stroke-width="0.6"/>
<rect x="36.30" y="142.30" width="5.00" height="33.20" fill="#d6708c" stroke="#111" stroke-width="0.85"/>
<line x1="46.70" y1="144.29" x2="46.70" y2="141.64" stroke="#111" stroke-width="0.6"/>
<line x1="45.69" y1="141.64" x2="47.71" y2="141.64" stroke="#111" stroke-width="0.6"/>
<rect x="44.40" y="144.29" width="4.60" height="31.21" fill="#6a9ad9" stroke="#111" stroke-width="0.85"/>
<line x1="58.00" y1="142.30" x2="58.00" y2="139.64" stroke="#111" stroke-width="0.6"/>
<line x1="56.90" y1="139.64" x2="59.10" y2="139.64" stroke="#111" stroke-width="0.6"/>
<rect x="55.50" y="142.30" width="5.00" height="33.20" fill="#d6708c" stroke="#111" stroke-width="0.85"/>
<line x1="65.80" y1="166.87" x2="65.80" y2="163.22" stroke="#111" stroke-width="0.6"/>
<line x1="64.79" y1="163.22" x2="66.81" y2="163.22" stroke="#111" stroke-width="0.6"/>
<rect x="63.50" y="166.87" width="4.60" height="8.63" fill="#6a9ad9" stroke="#111" stroke-width="0.85"/>
<line x1="77.60" y1="142.30" x2="77.60" y2="137.65" stroke="#111" stroke-width="0.6"/>
<line x1="76.54" y1="137.65" x2="78.66" y2="137.65" stroke="#111" stroke-width="0.6"/>
<rect x="75.20" y="142.30" width="4.80" height="33.20" fill="#d6708c" stroke="#111" stroke-width="0.85"/>
<line x1="85.55" y1="142.96" x2="85.55" y2="139.98" stroke="#111" stroke-width="0.6"/>
<line x1="84.52" y1="139.98" x2="86.58" y2="139.98" stroke="#111" stroke-width="0.6"/>
<rect x="83.20" y="142.96" width="4.70" height="32.54" fill="#6a9ad9" stroke="#111" stroke-width="0.85"/>
<line x1="96.90" y1="142.30" x2="96.90" y2="140.31" stroke="#111" stroke-width="0.6"/>
<line x1="95.80" y1="140.31" x2="98.00" y2="140.31" stroke="#111" stroke-width="0.6"/>
<rect x="94.40" y="142.30" width="5.00" height="33.20" fill="#d6708c" stroke="#111" stroke-width="0.85"/>
<line x1="104.60" y1="163.88" x2="104.60" y2="160.56" stroke="#111" stroke-width="0.6"/>
<line x1="103.63" y1="160.56" x2="105.57" y2="160.56" stroke="#111" stroke-width="0.6"/>
<rect x="102.40" y="163.88" width="4.40" height="11.62" fill="#6a9ad9" stroke="#111" stroke-width="0.85"/>
<text x="50.50" y="123.30" font-size="3.8" text-anchor="middle" font-weight="bold" fill="#000" stroke="#000" stroke-width="0.08">5637</text>
<line x1="37.30" y1="125.60" x2="64.50" y2="125.60" stroke="#333" stroke-width="0.75"/>
<text x="91.80" y="123.60" font-size="3.8" text-anchor="middle" font-weight="bold" fill="#000" stroke="#000" stroke-width="0.08">T24</text>
<line x1="78.90" y1="125.90" x2="106.10" y2="125.90" stroke="#333" stroke-width="0.75"/>
<line x1="57.50" y1="133.40" x2="65.60" y2="133.40" stroke="#555" stroke-width="0.75"/>
<line x1="57.50" y1="131.40" x2="57.50" y2="135.40" stroke="#222" stroke-width="0.75"/>
<line x1="65.60" y1="131.40" x2="65.60" y2="135.40" stroke="#222" stroke-width="0.75"/>
<circle cx="61.70" cy="131.20" r="0.85" fill="#111" stroke="none" stroke-width="0.4"/>
<line x1="96.50" y1="135.70" x2="104.60" y2="135.70" stroke="#555" stroke-width="0.75"/>
<line x1="96.50" y1="133.70" x2="96.50" y2="137.70" stroke="#222" stroke-width="0.75"/>
<line x1="104.60" y1="133.70" x2="104.60" y2="137.70" stroke="#222" stroke-width="0.75"/>
<circle cx="100.70" cy="133.20" r="0.85" fill="#111" stroke="none" stroke-width="0.4"/>
<rect x="116.10" y="127.20" width="5.60" height="2.40" fill="#d6708c" stroke="#000" stroke-width="0.75" rx="0.6"/>
<text x="124.60" y="129.90" font-size="4.1" text-anchor="start" font-weight="bold" fill="#000" stroke="#000" stroke-width="0.1">RNase R-</text>
<rect x="116.10" y="134.40" width="5.60" height="2.40" fill="#6a9ad9" stroke="#000" stroke-width="0.75" rx="0.6"/>
<text x="124.60" y="137.10" font-size="4.1" text-anchor="start" font-weight="bold" fill="#000" stroke="#000" stroke-width="0.1">RNase R+</text>
<text x="43.40" y="182.00" font-size="4.6" text-anchor="end" font-weight="bold" fill="#000" stroke="#000" stroke-width="0.12" transform="rotate(-45 43.40 182.00)">circ_0008035</text>
<text x="62.90" y="182.00" font-size="4.6" text-anchor="end" font-weight="bold" fill="#000" stroke="#000" stroke-width="0.12" transform="rotate(-45 62.90 182.00)">EXT1 mRNA</text>
<text x="82.70" y="182.00" font-size="4.6" text-anchor="end" font-weight="bold" fill="#000" stroke="#000" stroke-width="0.12" transform="rotate(-45 82.70 182.00)">circ_0008035</text>
<text x="102.30" y="182.00" font-size="4.6" text-anchor="end" font-weight="bold" fill="#000" stroke="#000" stroke-width="0.12" transform="rotate(-45 102.30 182.00)">EXT1 mRNA</text>
<text x="23.90" y="212.00" font-size="8" text-anchor="middle" font-weight="bold" fill="#000" stroke="#000" stroke-width="0.3">e</text>
<line x1="170.50" y1="124.40" x2="170.50" y2="175.70" stroke="#444" stroke-width="0.85"/>
<line x1="169.40" y1="175.40" x2="170.50" y2="175.40" stroke="#444" stroke-width="0.85"/>
<text x="168.90" y="176.62" font-size="3.4" text-anchor="end" font-weight="bold" fill="#000" stroke="#000" stroke-width="0.15">0</text>
<line x1="169.40" y1="158.50" x2="170.50" y2="158.50" stroke="#444" stroke-width="0.85"/>
<text x="168.90" y="159.72" font-size="3.4" text-anchor="end" font-weight="bold" fill="#000" stroke="#000" stroke-width="0.15">1</text>
<line x1="169.40" y1="141.60" x2="170.50" y2="141.60" stroke="#444" stroke-width="0.85"/>
<text x="168.90" y="142.82" font-size="3.4" text-anchor="end" font-weight="bold" fill="#000" stroke="#000" stroke-width="0.15">2</text>
<line x1="169.40" y1="124.70" x2="170.50" y2="124.70" stroke="#444" stroke-width="0.85"/>
<text x="168.90" y="125.92" font-size="3.4" text-anchor="end" font-weight="bold" fill="#000" stroke="#000" stroke-width="0.15">3</text>
<line x1="170.20" y1="175.40" x2="227.00" y2="175.40" stroke="#444" stroke-width="0.85"/>
<line x1="188.20" y1="175.40" x2="188.20" y2="176.50" stroke="#444" stroke-width="0.85"/>
<line x1="213.50" y1="175.40" x2="213.50" y2="176.50" stroke="#444" stroke-width="0.85"/>
<text x="164.20" y="149.20" font-size="4.78" text-anchor="middle" font-weight="bold" fill="#000" stroke="#000" stroke-width="0.1" transform="rotate(-90 164.20 149.20)">Relative miR-1184 level</text>
<line x1="188.15" y1="134.50" x2="188.15" y2="155.60" stroke="#222" stroke-width="0.75"/>
<line x1="188.15" y1="164.80" x2="188.15" y2="172.10" stroke="#222" stroke-width="0.75"/>
<line x1="184.25" y1="134.50" x2="192.05" y2="134.50" stroke="#222" stroke-width="0.75"/>
<line x1="184.25" y1="172.10" x2="192.05" y2="172.10" stroke="#222" stroke-width="0.75"/>
<rect x="179.90" y="155.60" width="16.50" height="9.20" fill="none" stroke="#222" stroke-width="0.75"/>
<line x1="179.90" y1="159.20" x2="196.40" y2="159.20" stroke="#222" stroke-width="0.75"/>
<line x1="213.55" y1="160.00" x2="213.55" y2="165.20" stroke="#222" stroke-width="0.75"/>
<line x1="213.55" y1="169.80" x2="213.55" y2="174.50" stroke="#222" stroke-width="0.75"/>
<line x1="209.45" y1="160.00" x2="217.65" y2="160.00" stroke="#222" stroke-width="0.75"/>
<line x1="209.45" y1="174.50" x2="217.65" y2="174.50" stroke="#222" stroke-width="0.75"/>
<rect x="205.40" y="165.20" width="16.30" height="4.60" fill="none" stroke="#222" stroke-width="0.75"/>
<line x1="205.40" y1="167.40" x2="221.70" y2="167.40" stroke="#222" stroke-width="0.75"/>
<circle cx="189.75" cy="142.61" r="1.1" fill="none" stroke="#d4487a" stroke-width="0.7"/>
<circle cx="190.58" cy="171.76" r="1.1" fill="none" stroke="#d4487a" stroke-width="0.7"/>
<circle cx="191.95" cy="154.90" r="1.1" fill="none" stroke="#d4487a" stroke-width="0.7"/>
<circle cx="190.48" cy="146.67" r="1.1" fill="none" stroke="#d4487a" stroke-width="0.7"/>
<circle cx="186.54" cy="167.02" r="1.1" fill="none" stroke="#d4487a" stroke-width="0.7"/>
<circle cx="188.05" cy="137.65" r="1.1" fill="none" stroke="#d4487a" stroke-width="0.7"/>
<circle cx="191.80" cy="155.41" r="1.1" fill="none" stroke="#d4487a" stroke-width="0.7"/>
<circle cx="183.00" cy="153.02" r="1.1" fill="none" stroke="#d4487a" stroke-width="0.7"/>
<circle cx="182.64" cy="165.25" r="1.1" fill="none" stroke="#d4487a" stroke-width="0.7"/>
<circle cx="183.91" cy="164.89" r="1.1" fill="none" stroke="#d4487a" stroke-width="0.7"/>
<circle cx="189.93" cy="147.23" r="1.1" fill="none" stroke="#d4487a" stroke-width="0.7"/>
<circle cx="187.16" cy="139.84" r="1.1" fill="none" stroke="#d4487a" stroke-width="0.7"/>
<circle cx="190.91" cy="154.13" r="1.1" fill="none" stroke="#d4487a" stroke-width="0.7"/>
<circle cx="190.39" cy="166.42" r="1.1" fill="none" stroke="#d4487a" stroke-width="0.7"/>
<circle cx="188.15" cy="170.44" r="1.1" fill="none" stroke="#d4487a" stroke-width="0.7"/>
<circle cx="185.48" cy="170.57" r="1.1" fill="none" stroke="#d4487a" stroke-width="0.7"/>
<circle cx="188.31" cy="142.91" r="1.1" fill="none" stroke="#d4487a" stroke-width="0.7"/>
<circle cx="189.31" cy="145.53" r="1.1" fill="none" stroke="#d4487a" stroke-width="0.7"/>
<circle cx="188.54" cy="158.78" r="1.1" fill="none" stroke="#d4487a" stroke-width="0.7"/>
<circle cx="188.89" cy="166.56" r="1.1" fill="none" stroke="#d4487a" stroke-width="0.7"/>
<circle cx="187.57" cy="146.34" r="1.1" fill="none" stroke="#d4487a" stroke-width="0.7"/>
<circle cx="192.76" cy="166.62" r="1.1" fill="none" stroke="#d4487a" stroke-width="0.7"/>
<circle cx="189.53" cy="142.41" r="1.1" fill="none" stroke="#d4487a" stroke-width="0.7"/>
<circle cx="188.34" cy="171.30" r="1.1" fill="none" stroke="#d4487a" stroke-width="0.7"/>
<circle cx="183.93" cy="156.27" r="1.1" fill="none" stroke="#d4487a" stroke-width="0.7"/>
<circle cx="188.24" cy="154.86" r="1.1" fill="none" stroke="#d4487a" stroke-width="0.7"/>
<circle cx="181.12" cy="157.50" r="1.1" fill="none" stroke="#d4487a" stroke-width="0.7"/>
<circle cx="188.29" cy="171.34" r="1.1" fill="none" stroke="#d4487a" stroke-width="0.7"/>
<circle cx="190.64" cy="149.72" r="1.1" fill="none" stroke="#d4487a" stroke-width="0.7"/>
<circle cx="188.08" cy="155.89" r="1.1" fill="none" stroke="#d4487a" stroke-width="0.7"/>
<circle cx="181.69" cy="160.76" r="1.1" fill="none" stroke="#d4487a" stroke-width="0.7"/>
<circle cx="187.08" cy="154.97" r="1.1" fill="none" stroke="#d4487a" stroke-width="0.7"/>
<circle cx="190.82" cy="170.86" r="1.1" fill="none" stroke="#d4487a" stroke-width="0.7"/>
<circle cx="188.08" cy="144.73" r="1.1" fill="none" stroke="#d4487a" stroke-width="0.7"/>
<circle cx="188.01" cy="139.32" r="1.1" fill="none" stroke="#d4487a" stroke-width="0.7"/>
<circle cx="193.21" cy="165.50" r="1.1" fill="none" stroke="#d4487a" stroke-width="0.7"/>
<circle cx="186.26" cy="152.61" r="1.1" fill="none" stroke="#d4487a" stroke-width="0.7"/>
<circle cx="188.62" cy="141.78" r="1.1" fill="none" stroke="#d4487a" stroke-width="0.7"/>
<circle cx="185.31" cy="169.66" r="1.1" fill="none" stroke="#d4487a" stroke-width="0.7"/>
<circle cx="181.57" cy="164.11" r="1.1" fill="none" stroke="#d4487a" stroke-width="0.7"/>
<circle cx="187.21" cy="141.88" r="1.1" fill="none" stroke="#d4487a" stroke-width="0.7"/>
<circle cx="185.53" cy="160.61" r="1.1" fill="none" stroke="#d4487a" stroke-width="0.7"/>
<circle cx="189.00" cy="148.00" r="1.1" fill="none" stroke="#d4487a" stroke-width="0.7"/>
<circle cx="188.83" cy="138.49" r="1.1" fill="none" stroke="#d4487a" stroke-width="0.7"/>
<circle cx="188.23" cy="139.17" r="1.1" fill="none" stroke="#d4487a" stroke-width="0.7"/>
<circle cx="186.89" cy="144.02" r="1.1" fill="none" stroke="#d4487a" stroke-width="0.7"/>
<circle cx="187.40" cy="154.65" r="1.1" fill="none" stroke="#d4487a" stroke-width="0.7"/>
<circle cx="187.57" cy="148.78" r="1.1" fill="none" stroke="#d4487a" stroke-width="0.7"/>
<circle cx="183.91" cy="154.62" r="1.1" fill="none" stroke="#d4487a" stroke-width="0.7"/>
<circle cx="188.69" cy="142.26" r="1.1" fill="none" stroke="#d4487a" stroke-width="0.7"/>
<circle cx="188.64" cy="158.76" r="1.1" fill="none" stroke="#d4487a" stroke-width="0.7"/>
<circle cx="189.45" cy="166.85" r="1.1" fill="none" stroke="#d4487a" stroke-width="0.7"/>
<circle cx="185.27" cy="167.06" r="1.1" fill="none" stroke="#d4487a" stroke-width="0.7"/>
<circle cx="192.86" cy="162.65" r="1.1" fill="none" stroke="#d4487a" stroke-width="0.7"/>
<circle cx="186.56" cy="168.80" r="1.1" fill="none" stroke="#d4487a" stroke-width="0.7"/>
<circle cx="190.48" cy="146.47" r="1.1" fill="none" stroke="#d4487a" stroke-width="0.7"/>
<circle cx="190.16" cy="142.79" r="1.1" fill="none" stroke="#d4487a" stroke-width="0.7"/>
<circle cx="184.65" cy="168.23" r="1.1" fill="none" stroke="#d4487a" stroke-width="0.7"/>
<circle cx="189.15" cy="143.60" r="1.1" fill="none" stroke="#d4487a" stroke-width="0.7"/>
<circle cx="186.41" cy="144.36" r="1.1" fill="none" stroke="#d4487a" stroke-width="0.7"/>
<circle cx="187.27" cy="166.12" r="1.1" fill="none" stroke="#d4487a" stroke-width="0.7"/>
<circle cx="183.16" cy="164.52" r="1.1" fill="none" stroke="#d4487a" stroke-width="0.7"/>
<circle cx="189.71" cy="149.81" r="1.1" fill="none" stroke="#d4487a" stroke-width="0.7"/>
<circle cx="187.57" cy="135.17" r="1.1" fill="none" stroke="#d4487a" stroke-width="0.7"/>
<circle cx="194.37" cy="160.43" r="1.1" fill="none" stroke="#d4487a" stroke-width="0.7"/>
<circle cx="186.05" cy="171.30" r="1.1" fill="none" stroke="#d4487a" stroke-width="0.7"/>
<circle cx="191.22" cy="153.72" r="1.1" fill="none" stroke="#d4487a" stroke-width="0.7"/>
<circle cx="190.36" cy="153.61" r="1.1" fill="none" stroke="#d4487a" stroke-width="0.7"/>
<circle cx="186.67" cy="141.68" r="1.1" fill="none" stroke="#d4487a" stroke-width="0.7"/>
<circle cx="186.94" cy="138.53" r="1.1" fill="none" stroke="#d4487a" stroke-width="0.7"/>
<circle cx="188.40" cy="155.46" r="1.1" fill="none" stroke="#d4487a" stroke-width="0.7"/>
<circle cx="183.21" cy="156.11" r="1.1" fill="none" stroke="#d4487a" stroke-width="0.7"/>
<circle cx="187.16" cy="141.51" r="1.1" fill="none" stroke="#d4487a" stroke-width="0.7"/>
<circle cx="193.87" cy="166.43" r="1.1" fill="none" stroke="#d4487a" stroke-width="0.7"/>
<circle cx="185.08" cy="169.72" r="1.1" fill="none" stroke="#d4487a" stroke-width="0.7"/>
<circle cx="216.69" cy="160.74" r="1.1" fill="none" stroke="#3f7fd6" stroke-width="0.7"/>
<circle cx="217.74" cy="166.82" r="1.1" fill="none" stroke="#3f7fd6" stroke-width="0.7"/>
<circle cx="213.03" cy="164.77" r="1.1" fill="none" stroke="#3f7fd6" stroke-width="0.7"/>
<circle cx="212.38" cy="167.63" r="1.1" fill="none" stroke="#3f7fd6" stroke-width="0.7"/>
<circle cx="205.71" cy="168.93" r="1.1" fill="none" stroke="#3f7fd6" stroke-width="0.7"/>
<circle cx="219.01" cy="170.46" r="1.1" fill="none" stroke="#3f7fd6" stroke-width="0.7"/>
<circle cx="212.99" cy="162.56" r="1.1" fill="none" stroke="#3f7fd6" stroke-width="0.7"/>
<circle cx="211.99" cy="171.04" r="1.1" fill="none" stroke="#3f7fd6" stroke-width="0.7"/>
<circle cx="209.65" cy="162.77" r="1.1" fill="none" stroke="#3f7fd6" stroke-width="0.7"/>
<circle cx="205.75" cy="167.59" r="1.1" fill="none" stroke="#3f7fd6" stroke-width="0.7"/>
<circle cx="217.61" cy="173.38" r="1.1" fill="none" stroke="#3f7fd6" stroke-width="0.7"/>
<circle cx="219.27" cy="170.51" r="1.1" fill="none" stroke="#3f7fd6" stroke-width="0.7"/>
<circle cx="211.97" cy="169.37" r="1.1" fill="none" stroke="#3f7fd6" stroke-width="0.7"/>
<circle cx="213.57" cy="168.91" r="1.1" fill="none" stroke="#3f7fd6" stroke-width="0.7"/>
<circle cx="217.24" cy="174.74" r="1.1" fill="none" stroke="#3f7fd6" stroke-width="0.7"/>
<circle cx="218.83" cy="163.73" r="1.1" fill="none" stroke="#3f7fd6" stroke-width="0.7"/>
<circle cx="217.92" cy="171.12" r="1.1" fill="none" stroke="#3f7fd6" stroke-width="0.7"/>
<circle cx="212.10" cy="172.18" r="1.1" fill="none" stroke="#3f7fd6" stroke-width="0.7"/>
<circle cx="218.66" cy="173.43" r="1.1" fill="none" stroke="#3f7fd6" stroke-width="0.7"/>
<circle cx="217.78" cy="170.36" r="1.1" fill="none" stroke="#3f7fd6" stroke-width="0.7"/>
<circle cx="212.03" cy="171.43" r="1.1" fill="none" stroke="#3f7fd6" stroke-width="0.7"/>
<circle cx="206.63" cy="170.78" r="1.1" fill="none" stroke="#3f7fd6" stroke-width="0.7"/>
<circle cx="213.04" cy="164.99" r="1.1" fill="none" stroke="#3f7fd6" stroke-width="0.7"/>
<circle cx="212.73" cy="159.96" r="1.1" fill="none" stroke="#3f7fd6" stroke-width="0.7"/>
<circle cx="215.48" cy="169.51" r="1.1" fill="none" stroke="#3f7fd6" stroke-width="0.7"/>
<circle cx="219.03" cy="163.33" r="1.1" fill="none" stroke="#3f7fd6" stroke-width="0.7"/>
<circle cx="210.91" cy="169.92" r="1.1" fill="none" stroke="#3f7fd6" stroke-width="0.7"/>
<circle cx="214.61" cy="169.83" r="1.1" fill="none" stroke="#3f7fd6" stroke-width="0.7"/>
<circle cx="211.73" cy="167.90" r="1.1" fill="none" stroke="#3f7fd6" stroke-width="0.7"/>
<circle cx="215.21" cy="175.00" r="1.1" fill="none" stroke="#3f7fd6" stroke-width="0.7"/>
<circle cx="217.69" cy="170.46" r="1.1" fill="none" stroke="#3f7fd6" stroke-width="0.7"/>
<circle cx="207.63" cy="174.70" r="1.1" fill="none" stroke="#3f7fd6" stroke-width="0.7"/>
<circle cx="217.32" cy="169.15" r="1.1" fill="none" stroke="#3f7fd6" stroke-width="0.7"/>
<circle cx="212.23" cy="163.70" r="1.1" fill="none" stroke="#3f7fd6" stroke-width="0.7"/>
<circle cx="211.47" cy="160.57" r="1.1" fill="none" stroke="#3f7fd6" stroke-width="0.7"/>
<circle cx="207.34" cy="165.51" r="1.1" fill="none" stroke="#3f7fd6" stroke-width="0.7"/>
<circle cx="218.70" cy="163.61" r="1.1" fill="none" stroke="#3f7fd6" stroke-width="0.7"/>
<circle cx="213.63" cy="168.16" r="1.1" fill="none" stroke="#3f7fd6" stroke-width="0.7"/>
<circle cx="214.35" cy="174.50" r="1.1" fill="none" stroke="#3f7fd6" stroke-width="0.7"/>
<circle cx="215.17" cy="174.93" r="1.1" fill="none" stroke="#3f7fd6" stroke-width="0.7"/>
<circle cx="207.19" cy="172.10" r="1.1" fill="none" stroke="#3f7fd6" stroke-width="0.7"/>
<circle cx="217.65" cy="168.88" r="1.1" fill="none" stroke="#3f7fd6" stroke-width="0.7"/>
<circle cx="216.30" cy="160.49" r="1.1" fill="none" stroke="#3f7fd6" stroke-width="0.7"/>
<circle cx="213.21" cy="162.23" r="1.1" fill="none" stroke="#3f7fd6" stroke-width="0.7"/>
<circle cx="213.45" cy="162.37" r="1.1" fill="none" stroke="#3f7fd6" stroke-width="0.7"/>
<circle cx="206.44" cy="169.09" r="1.1" fill="none" stroke="#3f7fd6" stroke-width="0.7"/>
<circle cx="212.48" cy="174.17" r="1.1" fill="none" stroke="#3f7fd6" stroke-width="0.7"/>
<circle cx="215.07" cy="167.81" r="1.1" fill="none" stroke="#3f7fd6" stroke-width="0.7"/>
<circle cx="210.26" cy="165.36" r="1.1" fill="none" stroke="#3f7fd6" stroke-width="0.7"/>
<circle cx="214.47" cy="169.76" r="1.1" fill="none" stroke="#3f7fd6" stroke-width="0.7"/>
<circle cx="216.42" cy="164.11" r="1.1" fill="none" stroke="#3f7fd6" stroke-width="0.7"/>
<circle cx="206.83" cy="164.30" r="1.1" fill="none" stroke="#3f7fd6" stroke-width="0.7"/>
<circle cx="207.69" cy="163.52" r="1.1" fill="none" stroke="#3f7fd6" stroke-width="0.7"/>
<circle cx="216.10" cy="162.18" r="1.1" fill="none" stroke="#3f7fd6" stroke-width="0.7"/>
<circle cx="219.72" cy="165.73" r="1.1" fill="none" stroke="#3f7fd6" stroke-width="0.7"/>
<circle cx="206.38" cy="171.18" r="1.1" fill="none" stroke="#3f7fd6" stroke-width="0.7"/>
<circle cx="218.91" cy="174.83" r="1.1" fill="none" stroke="#3f7fd6" stroke-width="0.7"/>
<circle cx="216.52" cy="160.92" r="1.1" fill="none" stroke="#3f7fd6" stroke-width="0.7"/>
<circle cx="213.14" cy="166.33" r="1.1" fill="none" stroke="#3f7fd6" stroke-width="0.7"/>
<circle cx="210.32" cy="174.59" r="1.1" fill="none" stroke="#3f7fd6" stroke-width="0.7"/>
<circle cx="220.50" cy="167.76" r="1.1" fill="none" stroke="#3f7fd6" stroke-width="0.7"/>
<circle cx="212.99" cy="170.79" r="1.1" fill="none" stroke="#3f7fd6" stroke-width="0.7"/>
<circle cx="217.40" cy="174.68" r="1.1" fill="none" stroke="#3f7fd6" stroke-width="0.7"/>
<circle cx="207.34" cy="168.98" r="1.1" fill="none" stroke="#3f7fd6" stroke-width="0.7"/>
<circle cx="212.79" cy="169.29" r="1.1" fill="none" stroke="#3f7fd6" stroke-width="0.7"/>
<circle cx="208.23" cy="162.90" r="1.1" fill="none" stroke="#3f7fd6" stroke-width="0.7"/>
<circle cx="207.49" cy="167.83" r="1.1" fill="none" stroke="#3f7fd6" stroke-width="0.7"/>
<circle cx="216.19" cy="166.53" r="1.1" fill="none" stroke="#3f7fd6" stroke-width="0.7"/>
<circle cx="209.69" cy="166.72" r="1.1" fill="none" stroke="#3f7fd6" stroke-width="0.7"/>
<circle cx="212.21" cy="168.65" r="1.1" fill="none" stroke="#3f7fd6" stroke-width="0.7"/>
<circle cx="213.97" cy="171.63" r="1.1" fill="none" stroke="#3f7fd6" stroke-width="0.7"/>
<circle cx="218.95" cy="174.96" r="1.1" fill="none" stroke="#3f7fd6" stroke-width="0.7"/>
<circle cx="209.31" cy="170.96" r="1.1" fill="none" stroke="#3f7fd6" stroke-width="0.7"/>
<circle cx="216.95" cy="161.53" r="1.1" fill="none" stroke="#3f7fd6" stroke-width="0.7"/>
<circle cx="215.41" cy="171.72" r="1.1" fill="none" stroke="#3f7fd6" stroke-width="0.7"/>
<circle cx="210.07" cy="165.26" r="1.1" fill="none" stroke="#3f7fd6" stroke-width="0.7"/>
<circle cx="214.54" cy="170.21" r="1.1" fill="none" stroke="#3f7fd6" stroke-width="0.7"/>
<circle cx="215.63" cy="168.79" r="1.1" fill="none" stroke="#3f7fd6" stroke-width="0.7"/>
<circle cx="208.61" cy="171.25" r="1.1" fill="none" stroke="#3f7fd6" stroke-width="0.7"/>
<circle cx="219.63" cy="163.58" r="1.1" fill="none" stroke="#3f7fd6" stroke-width="0.7"/>
<line x1="188.20" y1="126.60" x2="214.10" y2="126.60" stroke="#555" stroke-width="0.75"/>
<line x1="188.20" y1="124.60" x2="188.20" y2="128.60" stroke="#222" stroke-width="0.75"/>
<line x1="214.10" y1="124.60" x2="214.10" y2="128.60" stroke="#222" stroke-width="0.75"/>
<circle cx="201.10" cy="124.00" r="0.85" fill="#111" stroke="none" stroke-width="0.4"/>
<text x="188.30" y="183.30" font-size="4.9" text-anchor="middle" font-weight="bold" fill="#000" stroke="#000" stroke-width="0.08">Normal</text>
<text x="188.30" y="188.60" font-size="4.9" text-anchor="middle" font-weight="bold" fill="#000" stroke="#000" stroke-width="0.05">(n=55)</text>
<text x="212.90" y="183.30" font-size="4.8" text-anchor="middle" font-weight="bold" fill="#000" stroke="#000" stroke-width="0.08">Tumor</text>
<text x="212.90" y="188.60" font-size="4.8" text-anchor="middle" font-weight="bold" fill="#000" stroke="#000" stroke-width="0.05">(n=55)</text>
<text x="163.50" y="186.90" font-size="8" text-anchor="middle" font-weight="bold" fill="#000" stroke="#000" stroke-width="0.3">f</text>
<line x1="260.40" y1="124.90" x2="260.40" y2="175.60" stroke="#888" stroke-width="0.85"/>
<line x1="259.30" y1="175.30" x2="260.40" y2="175.30" stroke="#888" stroke-width="0.85"/>
<text x="258.80" y="176.52" font-size="3.4" text-anchor="end" font-weight="bold" fill="#000" stroke="#000" stroke-width="0.15">0.0</text>
<line x1="259.30" y1="158.60" x2="260.40" y2="158.60" stroke="#888" stroke-width="0.85"/>
<text x="258.80" y="159.82" font-size="3.4" text-anchor="end" font-weight="bold" fill="#000" stroke="#000" stroke-width="0.15">0.5</text>
<line x1="259.30" y1="141.90" x2="260.40" y2="141.90" stroke="#888" stroke-width="0.85"/>
<text x="258.80" y="143.12" font-size="3.4" text-anchor="end" font-weight="bold" fill="#000" stroke="#000" stroke-width="0.15">1.0</text>
<line x1="259.30" y1="125.20" x2="260.40" y2="125.20" stroke="#888" stroke-width="0.85"/>
<text x="258.80" y="126.42" font-size="3.4" text-anchor="end" font-weight="bold" fill="#000" stroke="#000" stroke-width="0.15">1.5</text>
<line x1="260.10" y1="175.30" x2="316.50" y2="175.30" stroke="#888" stroke-width="0.85"/>
<line x1="272.90" y1="175.30" x2="272.90" y2="176.40" stroke="#888" stroke-width="0.85"/>
<line x1="288.80" y1="175.30" x2="288.80" y2="176.40" stroke="#888" stroke-width="0.85"/>
<line x1="306.40" y1="175.30" x2="306.40" y2="176.40" stroke="#888" stroke-width="0.85"/>
<text x="250.30" y="149.50" font-size="4.8" text-anchor="middle" font-weight="bold" fill="#000" transform="rotate(-90 250.30 149.50)">Relative miR-1184 level</text>
<line x1="272.90" y1="142.90" x2="272.90" y2="138.80" stroke="#111" stroke-width="0.6"/>
<line x1="270.52" y1="138.80" x2="275.28" y2="138.80" stroke="#111" stroke-width="0.6"/>
<rect x="267.50" y="142.90" width="10.80" height="32.40" fill="#fff" stroke="#111" stroke-width="0.85"/>
<line x1="288.75" y1="159.20" x2="288.75" y2="155.60" stroke="#111" stroke-width="0.6"/>
<line x1="286.31" y1="155.60" x2="291.19" y2="155.60" stroke="#111" stroke-width="0.6"/>
<rect x="283.20" y="159.20" width="11.10" height="16.10" fill="#d6708c" stroke="#111" stroke-width="0.85"/>
<line x1="306.35" y1="164.10" x2="306.35" y2="160.40" stroke="#111" stroke-width="0.6"/>
<line x1="304.04" y1="160.40" x2="308.66" y2="160.40" stroke="#111" stroke-width="0.6"/>
<rect x="301.10" y="164.10" width="10.50" height="11.20" fill="#6a9ad9" stroke="#111" stroke-width="0.85"/>
<circle cx="288.90" cy="153.00" r="0.85" fill="#111" stroke="none" stroke-width="0.4"/>
<circle cx="306.40" cy="158.00" r="0.85" fill="#111" stroke="none" stroke-width="0.4"/>
<text x="272.30" y="181.80" font-size="4.4" text-anchor="end" font-weight="bold" fill="#000" stroke="#000" stroke-width="0.12" transform="rotate(-45 272.30 181.80)">SV-HUC-1</text>
<text x="290.60" y="181.80" font-size="4.4" text-anchor="end" font-weight="bold" fill="#000" stroke="#000" stroke-width="0.12" transform="rotate(-45 290.60 181.80)">5637</text>
<text x="306.00" y="182.30" font-size="4.4" text-anchor="end" font-weight="bold" fill="#000" stroke="#000" stroke-width="0.12" transform="rotate(-45 306.00 182.30)">T24</text>
<text x="250.50" y="199.00" font-size="8" text-anchor="middle" font-weight="bold" fill="#000" stroke="#000" stroke-width="0.3">g</text>
<line x1="352.30" y1="125.70" x2="352.30" y2="176.80" stroke="#444" stroke-width="0.85"/>
<line x1="351.20" y1="176.50" x2="352.30" y2="176.50" stroke="#444" stroke-width="0.85"/>
<text x="350.70" y="177.72" font-size="3.4" text-anchor="end" font-weight="bold" fill="#000" stroke="#000" stroke-width="0.15">0</text>
<line x1="351.20" y1="166.40" x2="352.30" y2="166.40" stroke="#444" stroke-width="0.85"/>
<text x="350.70" y="167.62" font-size="3.4" text-anchor="end" font-weight="bold" fill="#000" stroke="#000" stroke-width="0.15">1</text>
<line x1="351.20" y1="156.30" x2="352.30" y2="156.30" stroke="#444" stroke-width="0.85"/>
<text x="350.70" y="157.52" font-size="3.4" text-anchor="end" font-weight="bold" fill="#000" stroke="#000" stroke-width="0.15">2</text>
<line x1="351.20" y1="146.20" x2="352.30" y2="146.20" stroke="#444" stroke-width="0.85"/>
<text x="350.70" y="147.42" font-size="3.4" text-anchor="end" font-weight="bold" fill="#000" stroke="#000" stroke-width="0.15">3</text>
<line x1="351.20" y1="136.10" x2="352.30" y2="136.10" stroke="#444" stroke-width="0.85"/>
<text x="350.70" y="137.32" font-size="3.4" text-anchor="end" font-weight="bold" fill="#000" stroke="#000" stroke-width="0.15">4</text>
<line x1="351.20" y1="126.00" x2="352.30" y2="126.00" stroke="#444" stroke-width="0.85"/>
<text x="350.70" y="127.22" font-size="3.4" text-anchor="end" font-weight="bold" fill="#000" stroke="#000" stroke-width="0.15">5</text>
<line x1="352.00" y1="176.50" x2="406.00" y2="176.50" stroke="#444" stroke-width="0.85"/>
<line x1="369.40" y1="176.50" x2="369.40" y2="177.60" stroke="#444" stroke-width="0.85"/>
<line x1="395.20" y1="176.50" x2="395.20" y2="177.60" stroke="#444" stroke-width="0.85"/>
<text x="340.60" y="150.80" font-size="4.83" text-anchor="middle" font-weight="bold" fill="#000" stroke="#000" stroke-width="0.1" transform="rotate(-90 340.60 150.80)">Relative RAP2B mRNA</text>
<text x="345.70" y="151.20" font-size="4.83" text-anchor="middle" font-weight="bold" fill="#000" stroke="#000" stroke-width="0.1" transform="rotate(-90 345.70 151.20)">level</text>
<line x1="369.40" y1="151.70" x2="369.40" y2="163.80" stroke="#222" stroke-width="0.75"/>
<line x1="369.40" y1="170.20" x2="369.40" y2="174.80" stroke="#222" stroke-width="0.75"/>
<line x1="365.80" y1="151.70" x2="373.00" y2="151.70" stroke="#222" stroke-width="0.75"/>
<line x1="365.80" y1="174.80" x2="373.00" y2="174.80" stroke="#222" stroke-width="0.75"/>
<rect x="361.60" y="163.80" width="15.60" height="6.40" fill="none" stroke="#222" stroke-width="0.75"/>
<line x1="361.60" y1="167.50" x2="377.20" y2="167.50" stroke="#222" stroke-width="0.75"/>
<line x1="395.20" y1="131.60" x2="395.20" y2="142.10" stroke="#222" stroke-width="0.75"/>
<line x1="395.20" y1="156.20" x2="395.20" y2="168.10" stroke="#222" stroke-width="0.75"/>
<line x1="391.60" y1="131.60" x2="398.80" y2="131.60" stroke="#222" stroke-width="0.75"/>
<line x1="391.60" y1="168.10" x2="398.80" y2="168.10" stroke="#222" stroke-width="0.75"/>
<rect x="386.50" y="142.10" width="17.40" height="14.10" fill="none" stroke="#222" stroke-width="0.75"/>
<line x1="386.50" y1="149.30" x2="403.90" y2="149.30" stroke="#222" stroke-width="0.75"/>
<circle cx="374.85" cy="173.04" r="1.1" fill="none" stroke="#d4487a" stroke-width="0.7"/>
<circle cx="368.24" cy="152.62" r="1.1" fill="none" stroke="#d4487a" stroke-width="0.7"/>
<circle cx="368.91" cy="158.01" r="1.1" fill="none" stroke="#d4487a" stroke-width="0.7"/>
<circle cx="364.04" cy="166.22" r="1.1" fill="none" stroke="#d4487a" stroke-width="0.7"/>
<circle cx="364.13" cy="164.32" r="1.1" fill="none" stroke="#d4487a" stroke-width="0.7"/>
<circle cx="370.00" cy="153.71" r="1.1" fill="none" stroke="#d4487a" stroke-width="0.7"/>
<circle cx="371.04" cy="164.53" r="1.1" fill="none" stroke="#d4487a" stroke-width="0.7"/>
<circle cx="369.22" cy="160.40" r="1.1" fill="none" stroke="#d4487a" stroke-width="0.7"/>
<circle cx="368.55" cy="156.61" r="1.1" fill="none" stroke="#d4487a" stroke-width="0.7"/>
<circle cx="374.35" cy="169.05" r="1.1" fill="none" stroke="#d4487a" stroke-width="0.7"/>
<circle cx="368.18" cy="153.43" r="1.1" fill="none" stroke="#d4487a" stroke-width="0.7"/>
<circle cx="371.24" cy="170.55" r="1.1" fill="none" stroke="#d4487a" stroke-width="0.7"/>
<circle cx="365.14" cy="169.61" r="1.1" fill="none" stroke="#d4487a" stroke-width="0.7"/>
<circle cx="367.08" cy="161.59" r="1.1" fill="none" stroke="#d4487a" stroke-width="0.7"/>
<circle cx="367.45" cy="170.57" r="1.1" fill="none" stroke="#d4487a" stroke-width="0.7"/>
<circle cx="376.14" cy="166.93" r="1.1" fill="none" stroke="#d4487a" stroke-width="0.7"/>
<circle cx="369.76" cy="159.28" r="1.1" fill="none" stroke="#d4487a" stroke-width="0.7"/>
<circle cx="375.56" cy="169.08" r="1.1" fill="none" stroke="#d4487a" stroke-width="0.7"/>
<circle cx="368.14" cy="161.66" r="1.1" fill="none" stroke="#d4487a" stroke-width="0.7"/>
<circle cx="370.74" cy="153.96" r="1.1" fill="none" stroke="#d4487a" stroke-width="0.7"/>
<circle cx="368.03" cy="153.53" r="1.1" fill="none" stroke="#d4487a" stroke-width="0.7"/>
<circle cx="369.21" cy="164.85" r="1.1" fill="none" stroke="#d4487a" stroke-width="0.7"/>
<circle cx="366.57" cy="167.67" r="1.1" fill="none" stroke="#d4487a" stroke-width="0.7"/>
<circle cx="363.08" cy="169.77" r="1.1" fill="none" stroke="#d4487a" stroke-width="0.7"/>
<circle cx="370.29" cy="156.67" r="1.1" fill="none" stroke="#d4487a" stroke-width="0.7"/>
<circle cx="368.75" cy="153.60" r="1.1" fill="none" stroke="#d4487a" stroke-width="0.7"/>
<circle cx="372.20" cy="168.59" r="1.1" fill="none" stroke="#d4487a" stroke-width="0.7"/>
<circle cx="367.00" cy="158.29" r="1.1" fill="none" stroke="#d4487a" stroke-width="0.7"/>
<circle cx="371.22" cy="160.04" r="1.1" fill="none" stroke="#d4487a" stroke-width="0.7"/>
<circle cx="366.25" cy="160.24" r="1.1" fill="none" stroke="#d4487a" stroke-width="0.7"/>
<circle cx="370.39" cy="168.23" r="1.1" fill="none" stroke="#d4487a" stroke-width="0.7"/>
<circle cx="375.73" cy="173.10" r="1.1" fill="none" stroke="#d4487a" stroke-width="0.7"/>
<circle cx="368.51" cy="172.98" r="1.1" fill="none" stroke="#d4487a" stroke-width="0.7"/>
<circle cx="366.49" cy="170.41" r="1.1" fill="none" stroke="#d4487a" stroke-width="0.7"/>
<circle cx="368.66" cy="159.10" r="1.1" fill="none" stroke="#d4487a" stroke-width="0.7"/>
<circle cx="375.05" cy="173.48" r="1.1" fill="none" stroke="#d4487a" stroke-width="0.7"/>
<circle cx="368.55" cy="157.49" r="1.1" fill="none" stroke="#d4487a" stroke-width="0.7"/>
<circle cx="368.28" cy="160.22" r="1.1" fill="none" stroke="#d4487a" stroke-width="0.7"/>
<circle cx="368.40" cy="160.92" r="1.1" fill="none" stroke="#d4487a" stroke-width="0.7"/>
<circle cx="369.73" cy="156.24" r="1.1" fill="none" stroke="#d4487a" stroke-width="0.7"/>
<circle cx="370.01" cy="170.27" r="1.1" fill="none" stroke="#d4487a" stroke-width="0.7"/>
<circle cx="370.33" cy="171.19" r="1.1" fill="none" stroke="#d4487a" stroke-width="0.7"/>
<circle cx="370.66" cy="155.81" r="1.1" fill="none" stroke="#d4487a" stroke-width="0.7"/>
<circle cx="366.22" cy="172.22" r="1.1" fill="none" stroke="#d4487a" stroke-width="0.7"/>
<circle cx="369.44" cy="152.22" r="1.1" fill="none" stroke="#d4487a" stroke-width="0.7"/>
<circle cx="370.24" cy="164.38" r="1.1" fill="none" stroke="#d4487a" stroke-width="0.7"/>
<circle cx="371.54" cy="174.22" r="1.1" fill="none" stroke="#d4487a" stroke-width="0.7"/>
<circle cx="362.90" cy="170.44" r="1.1" fill="none" stroke="#d4487a" stroke-width="0.7"/>
<circle cx="372.98" cy="164.44" r="1.1" fill="none" stroke="#d4487a" stroke-width="0.7"/>
<circle cx="367.99" cy="153.66" r="1.1" fill="none" stroke="#d4487a" stroke-width="0.7"/>
<circle cx="375.21" cy="168.87" r="1.1" fill="none" stroke="#d4487a" stroke-width="0.7"/>
<circle cx="369.85" cy="153.67" r="1.1" fill="none" stroke="#d4487a" stroke-width="0.7"/>
<circle cx="370.47" cy="155.05" r="1.1" fill="none" stroke="#d4487a" stroke-width="0.7"/>
<circle cx="365.91" cy="166.82" r="1.1" fill="none" stroke="#d4487a" stroke-width="0.7"/>
<circle cx="370.89" cy="156.84" r="1.1" fill="none" stroke="#d4487a" stroke-width="0.7"/>
<circle cx="372.54" cy="163.85" r="1.1" fill="none" stroke="#d4487a" stroke-width="0.7"/>
<circle cx="367.96" cy="160.89" r="1.1" fill="none" stroke="#d4487a" stroke-width="0.7"/>
<circle cx="371.84" cy="174.26" r="1.1" fill="none" stroke="#d4487a" stroke-width="0.7"/>
<circle cx="369.82" cy="163.20" r="1.1" fill="none" stroke="#d4487a" stroke-width="0.7"/>
<circle cx="372.40" cy="168.50" r="1.1" fill="none" stroke="#d4487a" stroke-width="0.7"/>
<circle cx="368.11" cy="173.02" r="1.1" fill="none" stroke="#d4487a" stroke-width="0.7"/>
<circle cx="371.87" cy="170.95" r="1.1" fill="none" stroke="#d4487a" stroke-width="0.7"/>
<circle cx="373.89" cy="171.59" r="1.1" fill="none" stroke="#d4487a" stroke-width="0.7"/>
<circle cx="375.14" cy="171.13" r="1.1" fill="none" stroke="#d4487a" stroke-width="0.7"/>
<circle cx="371.39" cy="174.02" r="1.1" fill="none" stroke="#d4487a" stroke-width="0.7"/>
<circle cx="371.90" cy="163.91" r="1.1" fill="none" stroke="#d4487a" stroke-width="0.7"/>
<circle cx="368.23" cy="170.39" r="1.1" fill="none" stroke="#d4487a" stroke-width="0.7"/>
<circle cx="366.04" cy="161.50" r="1.1" fill="none" stroke="#d4487a" stroke-width="0.7"/>
<circle cx="376.56" cy="168.97" r="1.1" fill="none" stroke="#d4487a" stroke-width="0.7"/>
<circle cx="366.59" cy="160.45" r="1.1" fill="none" stroke="#d4487a" stroke-width="0.7"/>
<circle cx="369.00" cy="156.46" r="1.1" fill="none" stroke="#d4487a" stroke-width="0.7"/>
<circle cx="372.63" cy="158.50" r="1.1" fill="none" stroke="#d4487a" stroke-width="0.7"/>
<circle cx="368.83" cy="153.08" r="1.1" fill="none" stroke="#d4487a" stroke-width="0.7"/>
<circle cx="369.97" cy="154.38" r="1.1" fill="none" stroke="#d4487a" stroke-width="0.7"/>
<circle cx="364.62" cy="169.78" r="1.1" fill="none" stroke="#d4487a" stroke-width="0.7"/>
<circle cx="394.95" cy="133.88" r="1.1" fill="none" stroke="#3f7fd6" stroke-width="0.7"/>
<circle cx="401.99" cy="152.92" r="1.1" fill="none" stroke="#3f7fd6" stroke-width="0.7"/>
<circle cx="393.16" cy="132.93" r="1.1" fill="none" stroke="#3f7fd6" stroke-width="0.7"/>
<circle cx="391.95" cy="138.34" r="1.1" fill="none" stroke="#3f7fd6" stroke-width="0.7"/>
<circle cx="398.30" cy="140.19" r="1.1" fill="none" stroke="#3f7fd6" stroke-width="0.7"/>
<circle cx="390.64" cy="153.31" r="1.1" fill="none" stroke="#3f7fd6" stroke-width="0.7"/>
<circle cx="392.68" cy="138.35" r="1.1" fill="none" stroke="#3f7fd6" stroke-width="0.7"/>
<circle cx="397.99" cy="137.90" r="1.1" fill="none" stroke="#3f7fd6" stroke-width="0.7"/>
<circle cx="396.02" cy="142.98" r="1.1" fill="none" stroke="#3f7fd6" stroke-width="0.7"/>
<circle cx="395.00" cy="161.43" r="1.1" fill="none" stroke="#3f7fd6" stroke-width="0.7"/>
<circle cx="401.27" cy="141.11" r="1.1" fill="none" stroke="#3f7fd6" stroke-width="0.7"/>
<circle cx="394.17" cy="164.97" r="1.1" fill="none" stroke="#3f7fd6" stroke-width="0.7"/>
<circle cx="402.87" cy="151.58" r="1.1" fill="none" stroke="#3f7fd6" stroke-width="0.7"/>
<circle cx="390.46" cy="149.22" r="1.1" fill="none" stroke="#3f7fd6" stroke-width="0.7"/>
<circle cx="397.73" cy="133.41" r="1.1" fill="none" stroke="#3f7fd6" stroke-width="0.7"/>
<circle cx="393.98" cy="160.85" r="1.1" fill="none" stroke="#3f7fd6" stroke-width="0.7"/>
<circle cx="395.47" cy="150.86" r="1.1" fill="none" stroke="#3f7fd6" stroke-width="0.7"/>
<circle cx="403.26" cy="141.62" r="1.1" fill="none" stroke="#3f7fd6" stroke-width="0.7"/>
<circle cx="390.95" cy="155.60" r="1.1" fill="none" stroke="#3f7fd6" stroke-width="0.7"/>
<circle cx="395.08" cy="132.00" r="1.1" fill="none" stroke="#3f7fd6" stroke-width="0.7"/>
<circle cx="400.25" cy="145.16" r="1.1" fill="none" stroke="#3f7fd6" stroke-width="0.7"/>
<circle cx="396.80" cy="157.63" r="1.1" fill="none" stroke="#3f7fd6" stroke-width="0.7"/>
<circle cx="391.77" cy="137.34" r="1.1" fill="none" stroke="#3f7fd6" stroke-width="0.7"/>
<circle cx="391.11" cy="143.35" r="1.1" fill="none" stroke="#3f7fd6" stroke-width="0.7"/>
<circle cx="395.33" cy="163.33" r="1.1" fill="none" stroke="#3f7fd6" stroke-width="0.7"/>
<circle cx="403.24" cy="154.85" r="1.1" fill="none" stroke="#3f7fd6" stroke-width="0.7"/>
<circle cx="395.75" cy="141.33" r="1.1" fill="none" stroke="#3f7fd6" stroke-width="0.7"/>
<circle cx="397.81" cy="137.10" r="1.1" fill="none" stroke="#3f7fd6" stroke-width="0.7"/>
<circle cx="396.50" cy="131.65" r="1.1" fill="none" stroke="#3f7fd6" stroke-width="0.7"/>
<circle cx="397.97" cy="162.49" r="1.1" fill="none" stroke="#3f7fd6" stroke-width="0.7"/>
<circle cx="393.65" cy="134.61" r="1.1" fill="none" stroke="#3f7fd6" stroke-width="0.7"/>
<circle cx="389.18" cy="157.75" r="1.1" fill="none" stroke="#3f7fd6" stroke-width="0.7"/>
<circle cx="394.67" cy="149.12" r="1.1" fill="none" stroke="#3f7fd6" stroke-width="0.7"/>
<circle cx="395.66" cy="166.48" r="1.1" fill="none" stroke="#3f7fd6" stroke-width="0.7"/>
<circle cx="393.58" cy="162.89" r="1.1" fill="none" stroke="#3f7fd6" stroke-width="0.7"/>
<circle cx="394.27" cy="160.41" r="1.1" fill="none" stroke="#3f7fd6" stroke-width="0.7"/>
<circle cx="392.56" cy="165.06" r="1.1" fill="none" stroke="#3f7fd6" stroke-width="0.7"/>
<circle cx="392.48" cy="161.76" r="1.1" fill="none" stroke="#3f7fd6" stroke-width="0.7"/>
<circle cx="395.63" cy="151.43" r="1.1" fill="none" stroke="#3f7fd6" stroke-width="0.7"/>
<circle cx="398.53" cy="137.35" r="1.1" fill="none" stroke="#3f7fd6" stroke-width="0.7"/>
<circle cx="391.98" cy="142.97" r="1.1" fill="none" stroke="#3f7fd6" stroke-width="0.7"/>
<circle cx="393.93" cy="134.37" r="1.1" fill="none" stroke="#3f7fd6" stroke-width="0.7"/>
<circle cx="398.86" cy="148.65" r="1.1" fill="none" stroke="#3f7fd6" stroke-width="0.7"/>
<circle cx="398.38" cy="144.73" r="1.1" fill="none" stroke="#3f7fd6" stroke-width="0.7"/>
<circle cx="394.41" cy="135.46" r="1.1" fill="none" stroke="#3f7fd6" stroke-width="0.7"/>
<circle cx="403.14" cy="148.45" r="1.1" fill="none" stroke="#3f7fd6" stroke-width="0.7"/>
<circle cx="396.61" cy="161.89" r="1.1" fill="none" stroke="#3f7fd6" stroke-width="0.7"/>
<circle cx="394.66" cy="132.05" r="1.1" fill="none" stroke="#3f7fd6" stroke-width="0.7"/>
<circle cx="391.19" cy="157.52" r="1.1" fill="none" stroke="#3f7fd6" stroke-width="0.7"/>
<circle cx="394.50" cy="152.19" r="1.1" fill="none" stroke="#3f7fd6" stroke-width="0.7"/>
<circle cx="397.34" cy="131.98" r="1.1" fill="none" stroke="#3f7fd6" stroke-width="0.7"/>
<circle cx="392.06" cy="160.78" r="1.1" fill="none" stroke="#3f7fd6" stroke-width="0.7"/>
<circle cx="391.76" cy="154.09" r="1.1" fill="none" stroke="#3f7fd6" stroke-width="0.7"/>
<circle cx="395.88" cy="145.32" r="1.1" fill="none" stroke="#3f7fd6" stroke-width="0.7"/>
<circle cx="392.44" cy="142.48" r="1.1" fill="none" stroke="#3f7fd6" stroke-width="0.7"/>
<circle cx="398.03" cy="145.92" r="1.1" fill="none" stroke="#3f7fd6" stroke-width="0.7"/>
<circle cx="390.57" cy="140.96" r="1.1" fill="none" stroke="#3f7fd6" stroke-width="0.7"/>
<circle cx="392.78" cy="158.30" r="1.1" fill="none" stroke="#3f7fd6" stroke-width="0.7"/>
<circle cx="395.55" cy="166.09" r="1.1" fill="none" stroke="#3f7fd6" stroke-width="0.7"/>
<circle cx="392.75" cy="158.02" r="1.1" fill="none" stroke="#3f7fd6" stroke-width="0.7"/>
<circle cx="391.41" cy="161.78" r="1.1" fill="none" stroke="#3f7fd6" stroke-width="0.7"/>
<circle cx="391.50" cy="136.74" r="1.1" fill="none" stroke="#3f7fd6" stroke-width="0.7"/>
<circle cx="398.55" cy="156.34" r="1.1" fill="none" stroke="#3f7fd6" stroke-width="0.7"/>
<circle cx="394.10" cy="138.17" r="1.1" fill="none" stroke="#3f7fd6" stroke-width="0.7"/>
<circle cx="396.02" cy="162.15" r="1.1" fill="none" stroke="#3f7fd6" stroke-width="0.7"/>
<circle cx="393.29" cy="134.89" r="1.1" fill="none" stroke="#3f7fd6" stroke-width="0.7"/>
<circle cx="391.44" cy="137.33" r="1.1" fill="none" stroke="#3f7fd6" stroke-width="0.7"/>
<circle cx="387.94" cy="146.45" r="1.1" fill="none" stroke="#3f7fd6" stroke-width="0.7"/>
<circle cx="394.74" cy="165.20" r="1.1" fill="none" stroke="#3f7fd6" stroke-width="0.7"/>
<circle cx="397.70" cy="150.27" r="1.1" fill="none" stroke="#3f7fd6" stroke-width="0.7"/>
<circle cx="399.17" cy="159.59" r="1.1" fill="none" stroke="#3f7fd6" stroke-width="0.7"/>
<circle cx="392.33" cy="145.69" r="1.1" fill="none" stroke="#3f7fd6" stroke-width="0.7"/>
<circle cx="386.96" cy="146.64" r="1.1" fill="none" stroke="#3f7fd6" stroke-width="0.7"/>
<circle cx="398.60" cy="146.23" r="1.1" fill="none" stroke="#3f7fd6" stroke-width="0.7"/>
<circle cx="396.49" cy="167.44" r="1.1" fill="none" stroke="#3f7fd6" stroke-width="0.7"/>
<line x1="369.20" y1="125.60" x2="395.10" y2="125.60" stroke="#555" stroke-width="0.75"/>
<line x1="369.20" y1="123.60" x2="369.20" y2="127.60" stroke="#222" stroke-width="0.75"/>
<line x1="395.10" y1="123.60" x2="395.10" y2="127.60" stroke="#222" stroke-width="0.75"/>
<circle cx="382.10" cy="123.00" r="0.85" fill="#111" stroke="none" stroke-width="0.4"/>
<text x="369.40" y="183.80" font-size="4.9" text-anchor="middle" font-weight="bold" fill="#000" stroke="#000" stroke-width="0.08">Normal</text>
<text x="369.40" y="189.10" font-size="4.9" text-anchor="middle" font-weight="bold" fill="#000" stroke="#000" stroke-width="0.05">(n=55)</text>
<text x="394.70" y="183.80" font-size="4.8" text-anchor="middle" font-weight="bold" fill="#000" stroke="#000" stroke-width="0.08">Tumor</text>
<text x="394.70" y="189.10" font-size="4.8" text-anchor="middle" font-weight="bold" fill="#000" stroke="#000" stroke-width="0.05">(n=55)</text>
<text x="339.80" y="188.10" font-size="8" text-anchor="middle" font-weight="bold" fill="#000" stroke="#000" stroke-width="0.3">h</text>
<text x="42.50" y="225.00" font-size="3.8" text-anchor="middle" font-weight="bold" fill="#111" stroke="#111" stroke-width="0.05">N1</text>
<text x="51.90" y="225.00" font-size="3.8" text-anchor="middle" font-weight="bold" fill="#111" stroke="#111" stroke-width="0.05">N2</text>
<text x="60.60" y="225.00" font-size="3.8" text-anchor="middle" font-weight="bold" fill="#111" stroke="#111" stroke-width="0.05">N3</text>
<text x="70.00" y="225.00" font-size="3.8" text-anchor="middle" font-weight="bold" fill="#111" stroke="#111" stroke-width="0.05">T1</text>
<text x="80.60" y="225.00" font-size="3.8" text-anchor="middle" font-weight="bold" fill="#111" stroke="#111" stroke-width="0.05">T2</text>
<text x="89.40" y="225.00" font-size="3.8" text-anchor="middle" font-weight="bold" fill="#111" stroke="#111" stroke-width="0.05">T3</text>
<rect x="36.2" y="225.8" width="58.8" height="6.0" fill="url(#blot)"/>
<rect x="36.2" y="232.8" width="58.8" height="5.4" fill="url(#blot)"/>
<rect x="38.00" y="227.80" width="7.60" height="1.20" rx="0.60" fill="#0a0a0a" opacity="0.55" filter="url(#blur)"/>
<rect x="38.00" y="234.10" width="7.60" height="2.20" rx="1.10" fill="#0a0a0a" opacity="0.95" filter="url(#blur)"/>
<rect x="47.80" y="227.80" width="7.80" height="1.20" rx="0.60" fill="#0a0a0a" opacity="0.55" filter="url(#blur)"/>
<rect x="47.80" y="234.10" width="7.80" height="2.20" rx="1.10" fill="#0a0a0a" opacity="0.95" filter="url(#blur)"/>
<rect x="57.00" y="227.80" width="7.80" height="1.20" rx="0.60" fill="#0a0a0a" opacity="0.55" filter="url(#blur)"/>
<rect x="57.00" y="234.10" width="7.80" height="2.20" rx="1.10" fill="#0a0a0a" opacity="0.95" filter="url(#blur)"/>
<rect x="66.00" y="228.10" width="8.00" height="2.20" rx="1.10" fill="#0a0a0a" opacity="0.95" filter="url(#blur)"/>
<rect x="66.00" y="234.10" width="8.00" height="2.20" rx="1.10" fill="#0a0a0a" opacity="0.95" filter="url(#blur)"/>
<rect x="76.20" y="228.10" width="8.40" height="2.20" rx="1.10" fill="#0a0a0a" opacity="0.95" filter="url(#blur)"/>
<rect x="76.20" y="234.10" width="8.40" height="2.20" rx="1.10" fill="#0a0a0a" opacity="0.95" filter="url(#blur)"/>
<rect x="85.60" y="228.10" width="8.00" height="2.20" rx="1.10" fill="#0a0a0a" opacity="0.95" filter="url(#blur)"/>
<rect x="85.60" y="234.10" width="8.00" height="2.20" rx="1.10" fill="#0a0a0a" opacity="0.95" filter="url(#blur)"/>
<text x="34.10" y="230.00" font-size="4.6" text-anchor="end" font-weight="bold" fill="#000" stroke="#000" stroke-width="0.1">RAP2B</text>
<text x="34.40" y="236.70" font-size="4.6" text-anchor="end" font-weight="bold" fill="#000" stroke="#000" stroke-width="0.1">GAPDH</text>
<line x1="35.30" y1="248.30" x2="35.30" y2="283.30" stroke="#444" stroke-width="0.85"/>
<line x1="34.20" y1="283.00" x2="35.30" y2="283.00" stroke="#444" stroke-width="0.85"/>
<text x="33.70" y="284.22" font-size="3.4" text-anchor="end" font-weight="bold" fill="#000" stroke="#000" stroke-width="0.15">0</text>
<line x1="34.20" y1="274.40" x2="35.30" y2="274.40" stroke="#444" stroke-width="0.85"/>
<text x="33.70" y="275.62" font-size="3.4" text-anchor="end" font-weight="bold" fill="#000" stroke="#000" stroke-width="0.15">1</text>
<line x1="34.20" y1="265.80" x2="35.30" y2="265.80" stroke="#444" stroke-width="0.85"/>
<text x="33.70" y="267.02" font-size="3.4" text-anchor="end" font-weight="bold" fill="#000" stroke="#000" stroke-width="0.15">2</text>
<line x1="34.20" y1="257.20" x2="35.30" y2="257.20" stroke="#444" stroke-width="0.85"/>
<text x="33.70" y="258.42" font-size="3.4" text-anchor="end" font-weight="bold" fill="#000" stroke="#000" stroke-width="0.15">3</text>
<line x1="34.20" y1="248.60" x2="35.30" y2="248.60" stroke="#444" stroke-width="0.85"/>
<text x="33.70" y="249.82" font-size="3.4" text-anchor="end" font-weight="bold" fill="#000" stroke="#000" stroke-width="0.15">4</text>
<line x1="35.00" y1="283.00" x2="91.50" y2="283.00" stroke="#444" stroke-width="0.85"/>
<line x1="52.60" y1="283.00" x2="52.60" y2="284.10" stroke="#444" stroke-width="0.85"/>
<line x1="78.10" y1="283.00" x2="78.10" y2="284.10" stroke="#444" stroke-width="0.85"/>
<text x="22.60" y="266.70" font-size="4.78" text-anchor="middle" font-weight="bold" fill="#000" stroke="#000" stroke-width="0.1" transform="rotate(-90 22.60 266.70)">Relative RAP2B protein</text>
<text x="27.30" y="264.20" font-size="4.78" text-anchor="middle" font-weight="bold" fill="#000" stroke="#000" stroke-width="0.1" transform="rotate(-90 27.30 264.20)">level</text>
<line x1="52.65" y1="274.40" x2="52.65" y2="272.30" stroke="#111" stroke-width="0.6"/>
<line x1="49.02" y1="272.30" x2="56.28" y2="272.30" stroke="#111" stroke-width="0.6"/>
<rect x="44.40" y="274.40" width="16.50" height="8.60" fill="#d6708c" stroke="#111" stroke-width="0.85"/>
<line x1="78.05" y1="259.30" x2="78.05" y2="256.40" stroke="#111" stroke-width="0.6"/>
<line x1="74.33" y1="256.40" x2="81.77" y2="256.40" stroke="#111" stroke-width="0.6"/>
<rect x="69.60" y="259.30" width="16.90" height="23.70" fill="#6a9ad9" stroke="#111" stroke-width="0.85"/>
<circle cx="78.30" cy="253.30" r="0.85" fill="#111" stroke="none" stroke-width="0.4"/>
<text x="52.30" y="290.20" font-size="5.0" text-anchor="middle" font-weight="bold" fill="#000" stroke="#000" stroke-width="0.12">Normal</text>
<text x="77.70" y="290.20" font-size="5.0" text-anchor="middle" font-weight="bold" fill="#000" stroke="#000" stroke-width="0.12">Tumor</text>
<text x="21.40" y="301.10" font-size="7.6" text-anchor="middle" font-weight="bold" fill="#000" stroke="#000" stroke-width="0.3">i</text>
<rect x="149.4" y="221.9" width="48.6" height="10.0" fill="url(#blot)"/>
<rect x="149.4" y="233.7" width="48.6" height="10.3" fill="url(#blot)"/>
<rect x="152.80" y="225.10" width="11.00" height="1.40" rx="0.70" fill="#0a0a0a" opacity="0.6" filter="url(#blur)"/>
<rect x="152.80" y="237.50" width="11.00" height="2.60" rx="1.30" fill="#0a0a0a" opacity="0.95" filter="url(#blur)"/>
<rect x="168.30" y="225.60" width="12.00" height="2.60" rx="1.30" fill="#0a0a0a" opacity="0.95" filter="url(#blur)"/>
<rect x="168.30" y="237.50" width="12.00" height="2.60" rx="1.30" fill="#0a0a0a" opacity="0.95" filter="url(#blur)"/>
<rect x="184.40" y="225.60" width="11.60" height="2.60" rx="1.30" fill="#0a0a0a" opacity="0.95" filter="url(#blur)"/>
<rect x="184.40" y="237.50" width="11.60" height="2.60" rx="1.30" fill="#0a0a0a" opacity="0.95" filter="url(#blur)"/>
<text x="145.80" y="228.20" font-size="4.8" text-anchor="end" font-weight="bold" fill="#000" stroke="#000" stroke-width="0.1">RAP2B</text>
<text x="145.80" y="240.50" font-size="4.8" text-anchor="end" font-weight="bold" fill="#000" stroke="#000" stroke-width="0.1">GAPDH</text>
<line x1="145.80" y1="253.80" x2="145.80" y2="283.50" stroke="#444" stroke-width="0.85"/>
<line x1="144.70" y1="283.20" x2="145.80" y2="283.20" stroke="#444" stroke-width="0.85"/>
<text x="144.20" y="284.42" font-size="3.4" text-anchor="end" font-weight="bold" fill="#000" stroke="#000" stroke-width="0.15">0</text>
<line x1="144.70" y1="273.50" x2="145.80" y2="273.50" stroke="#444" stroke-width="0.85"/>
<text x="144.20" y="274.72" font-size="3.4" text-anchor="end" font-weight="bold" fill="#000" stroke="#000" stroke-width="0.15">1</text>
<line x1="144.70" y1="263.80" x2="145.80" y2="263.80" stroke="#444" stroke-width="0.85"/>
<text x="144.20" y="265.02" font-size="3.4" text-anchor="end" font-weight="bold" fill="#000" stroke="#000" stroke-width="0.15">2</text>
<line x1="144.70" y1="254.10" x2="145.80" y2="254.10" stroke="#444" stroke-width="0.85"/>
<text x="144.20" y="255.32" font-size="3.4" text-anchor="end" font-weight="bold" fill="#000" stroke="#000" stroke-width="0.15">3</text>
<line x1="145.50" y1="283.20" x2="200.00" y2="283.20" stroke="#444" stroke-width="0.85"/>
<line x1="157.70" y1="283.20" x2="157.70" y2="284.30" stroke="#444" stroke-width="0.85"/>
<line x1="175.40" y1="283.20" x2="175.40" y2="284.30" stroke="#444" stroke-width="0.85"/>
<line x1="192.70" y1="283.20" x2="192.70" y2="284.30" stroke="#444" stroke-width="0.85"/>
<text x="133.60" y="268.90" font-size="4.8" text-anchor="middle" font-weight="bold" fill="#000" stroke="#000" stroke-width="0.1" transform="rotate(-90 133.60 268.90)">Relative RAP2B protein</text>
<text x="138.60" y="268.50" font-size="4.8" text-anchor="middle" font-weight="bold" fill="#000" stroke="#000" stroke-width="0.1" transform="rotate(-90 138.60 268.50)">level</text>
<line x1="157.75" y1="273.40" x2="157.75" y2="272.40" stroke="#111" stroke-width="0.6"/>
<line x1="155.44" y1="272.40" x2="160.06" y2="272.40" stroke="#111" stroke-width="0.6"/>
<rect x="152.50" y="273.40" width="10.50" height="9.80" fill="#fff" stroke="#111" stroke-width="0.85"/>
<line x1="175.45" y1="261.10" x2="175.45" y2="259.40" stroke="#111" stroke-width="0.6"/>
<line x1="172.92" y1="259.40" x2="177.98" y2="259.40" stroke="#111" stroke-width="0.6"/>
<rect x="169.70" y="261.10" width="11.50" height="22.10" fill="#d6708c" stroke="#111" stroke-width="0.85"/>
<line x1="192.75" y1="257.40" x2="192.75" y2="256.00" stroke="#111" stroke-width="0.6"/>
<line x1="190.31" y1="256.00" x2="195.19" y2="256.00" stroke="#111" stroke-width="0.6"/>
<rect x="187.20" y="257.40" width="11.10" height="25.80" fill="#6a9ad9" stroke="#111" stroke-width="0.85"/>
<text x="157.70" y="289.90" font-size="4.5" text-anchor="end" font-weight="bold" fill="#000" stroke="#000" stroke-width="0.12" transform="rotate(-45 157.70 289.90)">SV-HUC-1</text>
<text x="176.00" y="290.40" font-size="4.5" text-anchor="end" font-weight="bold" fill="#000" stroke="#000" stroke-width="0.12" transform="rotate(-45 176.00 290.40)">5637</text>
<text x="195.30" y="290.80" font-size="4.5" text-anchor="end" font-weight="bold" fill="#000" stroke="#000" stroke-width="0.12" transform="rotate(-45 195.30 290.80)">T24</text>
<text x="132.60" y="305.00" font-size="8.4" text-anchor="middle" font-weight="bold" fill="#000" stroke="#000" stroke-width="0.3">j</text>
<line x1="237.50" y1="232.80" x2="237.50" y2="283.40" stroke="#444" stroke-width="0.85"/>
<line x1="236.40" y1="283.10" x2="237.50" y2="283.10" stroke="#444" stroke-width="0.85"/>
<text x="235.90" y="284.32" font-size="3.4" text-anchor="end" font-weight="bold" fill="#000" stroke="#000" stroke-width="0.15">0</text>
<line x1="236.40" y1="273.10" x2="237.50" y2="273.10" stroke="#444" stroke-width="0.85"/>
<text x="235.90" y="274.32" font-size="3.4" text-anchor="end" font-weight="bold" fill="#000" stroke="#000" stroke-width="0.15">1</text>
<line x1="236.40" y1="263.10" x2="237.50" y2="263.10" stroke="#444" stroke-width="0.85"/>
<text x="235.90" y="264.32" font-size="3.4" text-anchor="end" font-weight="bold" fill="#000" stroke="#000" stroke-width="0.15">2</text>
<line x1="236.40" y1="253.10" x2="237.50" y2="253.10" stroke="#444" stroke-width="0.85"/>
<text x="235.90" y="254.32" font-size="3.4" text-anchor="end" font-weight="bold" fill="#000" stroke="#000" stroke-width="0.15">3</text>
<line x1="236.40" y1="243.10" x2="237.50" y2="243.10" stroke="#444" stroke-width="0.85"/>
<text x="235.90" y="244.32" font-size="3.4" text-anchor="end" font-weight="bold" fill="#000" stroke="#000" stroke-width="0.15">4</text>
<line x1="236.40" y1="233.10" x2="237.50" y2="233.10" stroke="#444" stroke-width="0.85"/>
<text x="235.90" y="234.32" font-size="3.4" text-anchor="end" font-weight="bold" fill="#000" stroke="#000" stroke-width="0.15">5</text>
<line x1="237.20" y1="283.10" x2="296.50" y2="283.10" stroke="#444" stroke-width="0.85"/>
<line x1="237.50" y1="283.10" x2="237.50" y2="284.20" stroke="#444" stroke-width="0.75"/>
<text x="237.50" y="288.70" font-size="3.3" text-anchor="middle" font-weight="bold" fill="#000" stroke="#000" stroke-width="0.15">0.0</text>
<line x1="249.30" y1="283.10" x2="249.30" y2="284.20" stroke="#444" stroke-width="0.75"/>
<text x="249.30" y="288.70" font-size="3.3" text-anchor="middle" font-weight="bold" fill="#000" stroke="#000" stroke-width="0.15">0.2</text>
<line x1="261.10" y1="283.10" x2="261.10" y2="284.20" stroke="#444" stroke-width="0.75"/>
<text x="261.10" y="288.70" font-size="3.3" text-anchor="middle" font-weight="bold" fill="#000" stroke="#000" stroke-width="0.15">0.4</text>
<line x1="272.90" y1="283.10" x2="272.90" y2="284.20" stroke="#444" stroke-width="0.75"/>
<text x="272.90" y="288.70" font-size="3.3" text-anchor="middle" font-weight="bold" fill="#000" stroke="#000" stroke-width="0.15">0.6</text>
<line x1="284.70" y1="283.10" x2="284.70" y2="284.20" stroke="#444" stroke-width="0.75"/>
<text x="284.70" y="288.70" font-size="3.3" text-anchor="middle" font-weight="bold" fill="#000" stroke="#000" stroke-width="0.15">0.8</text>
<line x1="296.50" y1="283.10" x2="296.50" y2="284.20" stroke="#444" stroke-width="0.75"/>
<text x="296.50" y="288.70" font-size="3.3" text-anchor="middle" font-weight="bold" fill="#000" stroke="#000" stroke-width="0.15">1.0</text>
<text x="230.60" y="256.00" font-size="4.8" text-anchor="middle" font-weight="bold" fill="#000" stroke="#000" stroke-width="0.1" transform="rotate(-90 230.60 256.00)">Relative circ_0008035 level</text>
<text x="267.40" y="296.50" font-size="4.8" text-anchor="middle" font-weight="bold" fill="#000" stroke="#000" stroke-width="0.1">Relative miR-1184 level</text>
<text x="266.90" y="225.80" font-size="4.9" text-anchor="middle" font-weight="bold" fill="#000" font-style="italic">P&lt;0.0001,r=-0.8664</text>
<polyline points="243.2,243.2 294.3,271.4" fill="none" stroke="#333" stroke-width="0.7"/>
<circle cx="243.20" cy="238.80" r="1.1" fill="#4a86d6" stroke="none" stroke-width="0.4"/>
<circle cx="245.00" cy="241.50" r="1.1" fill="#4a86d6" stroke="none" stroke-width="0.4"/>
<circle cx="247.70" cy="240.90" r="1.1" fill="#4a86d6" stroke="none" stroke-width="0.4"/>
<circle cx="250.30" cy="240.00" r="1.1" fill="#4a86d6" stroke="none" stroke-width="0.4"/>
<circle cx="252.10" cy="242.30" r="1.1" fill="#4a86d6" stroke="none" stroke-width="0.4"/>
<circle cx="243.20" cy="249.90" r="1.1" fill="#4a86d6" stroke="none" stroke-width="0.4"/>
<circle cx="244.10" cy="243.80" r="1.1" fill="#4a86d6" stroke="none" stroke-width="0.4"/>
<circle cx="246.80" cy="245.90" r="1.1" fill="#4a86d6" stroke="none" stroke-width="0.4"/>
<circle cx="249.50" cy="245.00" r="1.1" fill="#4a86d6" stroke="none" stroke-width="0.4"/>
<circle cx="253.90" cy="244.10" r="1.1" fill="#4a86d6" stroke="none" stroke-width="0.4"/>
<circle cx="255.70" cy="245.90" r="1.1" fill="#4a86d6" stroke="none" stroke-width="0.4"/>
<circle cx="251.20" cy="248.60" r="1.1" fill="#4a86d6" stroke="none" stroke-width="0.4"/>
<circle cx="253.00" cy="250.40" r="1.1" fill="#4a86d6" stroke="none" stroke-width="0.4"/>
<circle cx="254.80" cy="252.70" r="1.1" fill="#4a86d6" stroke="none" stroke-width="0.4"/>
<circle cx="257.50" cy="250.40" r="1.1" fill="#4a86d6" stroke="none" stroke-width="0.4"/>
<circle cx="259.30" cy="249.20" r="1.1" fill="#4a86d6" stroke="none" stroke-width="0.4"/>
<circle cx="261.10" cy="254.90" r="1.1" fill="#4a86d6" stroke="none" stroke-width="0.4"/>
<circle cx="263.80" cy="254.00" r="1.1" fill="#4a86d6" stroke="none" stroke-width="0.4"/>
<circle cx="264.70" cy="256.70" r="1.1" fill="#4a86d6" stroke="none" stroke-width="0.4"/>
<circle cx="266.50" cy="257.60" r="1.1" fill="#4a86d6" stroke="none" stroke-width="0.4"/>
<circle cx="268.30" cy="254.90" r="1.1" fill="#4a86d6" stroke="none" stroke-width="0.4"/>
<circle cx="260.20" cy="261.20" r="1.1" fill="#4a86d6" stroke="none" stroke-width="0.4"/>
<circle cx="262.00" cy="259.90" r="1.1" fill="#4a86d6" stroke="none" stroke-width="0.4"/>
<circle cx="262.90" cy="261.20" r="1.1" fill="#4a86d6" stroke="none" stroke-width="0.4"/>
<circle cx="271.00" cy="258.50" r="1.1" fill="#4a86d6" stroke="none" stroke-width="0.4"/>
<circle cx="275.50" cy="254.90" r="1.1" fill="#4a86d6" stroke="none" stroke-width="0.4"/>
<circle cx="272.80" cy="261.20" r="1.1" fill="#4a86d6" stroke="none" stroke-width="0.4"/>
<circle cx="274.60" cy="263.00" r="1.1" fill="#4a86d6" stroke="none" stroke-width="0.4"/>
<circle cx="271.90" cy="265.70" r="1.1" fill="#4a86d6" stroke="none" stroke-width="0.4"/>
<circle cx="273.70" cy="267.10" r="1.1" fill="#4a86d6" stroke="none" stroke-width="0.4"/>
<circle cx="277.20" cy="263.90" r="1.1" fill="#4a86d6" stroke="none" stroke-width="0.4"/>
<circle cx="279.00" cy="263.00" r="1.1" fill="#4a86d6" stroke="none" stroke-width="0.4"/>
<circle cx="281.70" cy="263.00" r="1.1" fill="#4a86d6" stroke="none" stroke-width="0.4"/>
<circle cx="283.50" cy="263.90" r="1.1" fill="#4a86d6" stroke="none" stroke-width="0.4"/>
<circle cx="279.90" cy="269.60" r="1.1" fill="#4a86d6" stroke="none" stroke-width="0.4"/>
<circle cx="282.60" cy="266.60" r="1.1" fill="#4a86d6" stroke="none" stroke-width="0.4"/>
<circle cx="285.30" cy="265.70" r="1.1" fill="#4a86d6" stroke="none" stroke-width="0.4"/>
<circle cx="287.10" cy="265.70" r="1.1" fill="#4a86d6" stroke="none" stroke-width="0.4"/>
<circle cx="288.90" cy="253.10" r="1.1" fill="#4a86d6" stroke="none" stroke-width="0.4"/>
<circle cx="289.80" cy="270.10" r="1.1" fill="#4a86d6" stroke="none" stroke-width="0.4"/>
<circle cx="293.40" cy="271.00" r="1.1" fill="#4a86d6" stroke="none" stroke-width="0.4"/>
<circle cx="266.80" cy="268.40" r="1.1" fill="#4a86d6" stroke="none" stroke-width="0.4"/>
<circle cx="248.50" cy="245.20" r="1.1" fill="#4a86d6" stroke="none" stroke-width="0.4"/>
<circle cx="251.00" cy="246.80" r="1.1" fill="#4a86d6" stroke="none" stroke-width="0.4"/>
<circle cx="256.50" cy="249.00" r="1.1" fill="#4a86d6" stroke="none" stroke-width="0.4"/>
<circle cx="258.00" cy="251.50" r="1.1" fill="#4a86d6" stroke="none" stroke-width="0.4"/>
<circle cx="260.00" cy="252.20" r="1.1" fill="#4a86d6" stroke="none" stroke-width="0.4"/>
<circle cx="262.50" cy="253.50" r="1.1" fill="#4a86d6" stroke="none" stroke-width="0.4"/>
<circle cx="265.00" cy="255.50" r="1.1" fill="#4a86d6" stroke="none" stroke-width="0.4"/>
<circle cx="268.00" cy="257.00" r="1.1" fill="#4a86d6" stroke="none" stroke-width="0.4"/>
<circle cx="270.00" cy="258.30" r="1.1" fill="#4a86d6" stroke="none" stroke-width="0.4"/>
<text x="230.30" y="299.10" font-size="7.8" text-anchor="middle" font-weight="bold" fill="#000" stroke="#000" stroke-width="0.3">k</text>
<line x1="337.30" y1="232.40" x2="337.30" y2="283.50" stroke="#444" stroke-width="0.85"/>
<line x1="336.20" y1="283.20" x2="337.30" y2="283.20" stroke="#444" stroke-width="0.85"/>
<text x="335.70" y="284.42" font-size="3.4" text-anchor="end" font-weight="bold" fill="#000" stroke="#000" stroke-width="0.15">0</text>
<line x1="336.20" y1="273.10" x2="337.30" y2="273.10" stroke="#444" stroke-width="0.85"/>
<text x="335.70" y="274.32" font-size="3.4" text-anchor="end" font-weight="bold" fill="#000" stroke="#000" stroke-width="0.15">1</text>
<line x1="336.20" y1="263.00" x2="337.30" y2="263.00" stroke="#444" stroke-width="0.85"/>
<text x="335.70" y="264.22" font-size="3.4" text-anchor="end" font-weight="bold" fill="#000" stroke="#000" stroke-width="0.15">2</text>
<line x1="336.20" y1="252.90" x2="337.30" y2="252.90" stroke="#444" stroke-width="0.85"/>
<text x="335.70" y="254.12" font-size="3.4" text-anchor="end" font-weight="bold" fill="#000" stroke="#000" stroke-width="0.15">3</text>
<line x1="336.20" y1="242.80" x2="337.30" y2="242.80" stroke="#444" stroke-width="0.85"/>
<text x="335.70" y="244.02" font-size="3.4" text-anchor="end" font-weight="bold" fill="#000" stroke="#000" stroke-width="0.15">4</text>
<line x1="336.20" y1="232.70" x2="337.30" y2="232.70" stroke="#444" stroke-width="0.85"/>
<text x="335.70" y="233.92" font-size="3.4" text-anchor="end" font-weight="bold" fill="#000" stroke="#000" stroke-width="0.15">5</text>
<line x1="337.00" y1="283.20" x2="394.80" y2="283.20" stroke="#444" stroke-width="0.85"/>
<line x1="337.30" y1="283.20" x2="337.30" y2="284.30" stroke="#444" stroke-width="0.75"/>
<text x="337.30" y="288.70" font-size="3.3" text-anchor="middle" font-weight="bold" fill="#000" stroke="#000" stroke-width="0.15">0.0</text>
<line x1="348.80" y1="283.20" x2="348.80" y2="284.30" stroke="#444" stroke-width="0.75"/>
<text x="348.80" y="288.70" font-size="3.3" text-anchor="middle" font-weight="bold" fill="#000" stroke="#000" stroke-width="0.15">0.2</text>
<line x1="360.30" y1="283.20" x2="360.30" y2="284.30" stroke="#444" stroke-width="0.75"/>
<text x="360.30" y="288.70" font-size="3.3" text-anchor="middle" font-weight="bold" fill="#000" stroke="#000" stroke-width="0.15">0.4</text>
<line x1="371.80" y1="283.20" x2="371.80" y2="284.30" stroke="#444" stroke-width="0.75"/>
<text x="371.80" y="288.70" font-size="3.3" text-anchor="middle" font-weight="bold" fill="#000" stroke="#000" stroke-width="0.15">0.6</text>
<line x1="383.30" y1="283.20" x2="383.30" y2="284.30" stroke="#444" stroke-width="0.75"/>
<text x="383.30" y="288.70" font-size="3.3" text-anchor="middle" font-weight="bold" fill="#000" stroke="#000" stroke-width="0.15">0.8</text>
<line x1="394.80" y1="283.20" x2="394.80" y2="284.30" stroke="#444" stroke-width="0.75"/>
<text x="394.80" y="288.70" font-size="3.3" text-anchor="middle" font-weight="bold" fill="#000" stroke="#000" stroke-width="0.15">1.0</text>
<text x="324.50" y="257.20" font-size="4.83" text-anchor="middle" font-weight="bold" fill="#000" stroke="#000" stroke-width="0.1" transform="rotate(-90 324.50 257.20)">Relative RAP2B mRNA</text>
<text x="330.70" y="258.20" font-size="4.83" text-anchor="middle" font-weight="bold" fill="#000" stroke="#000" stroke-width="0.1" transform="rotate(-90 330.70 258.20)">level</text>
<text x="366.70" y="296.30" font-size="4.8" text-anchor="middle" font-weight="bold" fill="#000" stroke="#000" stroke-width="0.1">Relative miR-1184 level</text>
<text x="366.30" y="225.80" font-size="5.0" text-anchor="middle" font-weight="bold" fill="#000" font-style="italic">P&lt;0.0001,r=-0.8733</text>
<polyline points="342.3,242.3 360.0,252.5 377.2,263.0 385.0,267.2 392.5,274.6" fill="none" stroke="#333" stroke-width="0.7"/>
<circle cx="342.30" cy="237.90" r="1.1" fill="#4a86d6" stroke="none" stroke-width="0.4"/>
<circle cx="344.10" cy="241.50" r="1.1" fill="#4a86d6" stroke="none" stroke-width="0.4"/>
<circle cx="346.80" cy="239.70" r="1.1" fill="#4a86d6" stroke="none" stroke-width="0.4"/>
<circle cx="349.50" cy="240.20" r="1.1" fill="#4a86d6" stroke="none" stroke-width="0.4"/>
<circle cx="343.20" cy="243.20" r="1.1" fill="#4a86d6" stroke="none" stroke-width="0.4"/>
<circle cx="345.90" cy="245.00" r="1.1" fill="#4a86d6" stroke="none" stroke-width="0.4"/>
<circle cx="348.60" cy="245.90" r="1.1" fill="#4a86d6" stroke="none" stroke-width="0.4"/>
<circle cx="350.30" cy="247.70" r="1.1" fill="#4a86d6" stroke="none" stroke-width="0.4"/>
<circle cx="352.10" cy="249.50" r="1.1" fill="#4a86d6" stroke="none" stroke-width="0.4"/>
<circle cx="351.20" cy="250.40" r="1.1" fill="#4a86d6" stroke="none" stroke-width="0.4"/>
<circle cx="353.90" cy="254.00" r="1.1" fill="#4a86d6" stroke="none" stroke-width="0.4"/>
<circle cx="355.70" cy="255.80" r="1.1" fill="#4a86d6" stroke="none" stroke-width="0.4"/>
<circle cx="352.10" cy="260.30" r="1.1" fill="#4a86d6" stroke="none" stroke-width="0.4"/>
<circle cx="357.50" cy="246.80" r="1.1" fill="#4a86d6" stroke="none" stroke-width="0.4"/>
<circle cx="359.30" cy="248.60" r="1.1" fill="#4a86d6" stroke="none" stroke-width="0.4"/>
<circle cx="362.00" cy="248.10" r="1.1" fill="#4a86d6" stroke="none" stroke-width="0.4"/>
<circle cx="363.80" cy="251.00" r="1.1" fill="#4a86d6" stroke="none" stroke-width="0.4"/>
<circle cx="365.60" cy="251.70" r="1.1" fill="#4a86d6" stroke="none" stroke-width="0.4"/>
<circle cx="358.40" cy="259.90" r="1.1" fill="#4a86d6" stroke="none" stroke-width="0.4"/>
<circle cx="361.10" cy="263.50" r="1.1" fill="#4a86d6" stroke="none" stroke-width="0.4"/>
<circle cx="364.70" cy="258.50" r="1.1" fill="#4a86d6" stroke="none" stroke-width="0.4"/>
<circle cx="366.50" cy="269.20" r="1.1" fill="#4a86d6" stroke="none" stroke-width="0.4"/>
<circle cx="369.20" cy="270.10" r="1.1" fill="#4a86d6" stroke="none" stroke-width="0.4"/>
<circle cx="367.40" cy="261.20" r="1.1" fill="#4a86d6" stroke="none" stroke-width="0.4"/>
<circle cx="371.00" cy="259.40" r="1.1" fill="#4a86d6" stroke="none" stroke-width="0.4"/>
<circle cx="371.90" cy="252.20" r="1.1" fill="#4a86d6" stroke="none" stroke-width="0.4"/>
<circle cx="372.80" cy="263.90" r="1.1" fill="#4a86d6" stroke="none" stroke-width="0.4"/>
<circle cx="373.70" cy="268.40" r="1.1" fill="#4a86d6" stroke="none" stroke-width="0.4"/>
<circle cx="376.40" cy="258.50" r="1.1" fill="#4a86d6" stroke="none" stroke-width="0.4"/>
<circle cx="378.10" cy="262.10" r="1.1" fill="#4a86d6" stroke="none" stroke-width="0.4"/>
<circle cx="379.90" cy="264.80" r="1.1" fill="#4a86d6" stroke="none" stroke-width="0.4"/>
<circle cx="383.50" cy="264.80" r="1.1" fill="#4a86d6" stroke="none" stroke-width="0.4"/>
<circle cx="381.70" cy="273.70" r="1.1" fill="#4a86d6" stroke="none" stroke-width="0.4"/>
<circle cx="386.20" cy="267.50" r="1.1" fill="#4a86d6" stroke="none" stroke-width="0.4"/>
<circle cx="388.90" cy="265.70" r="1.1" fill="#4a86d6" stroke="none" stroke-width="0.4"/>
<circle cx="392.50" cy="275.00" r="1.1" fill="#4a86d6" stroke="none" stroke-width="0.4"/>
<circle cx="380.80" cy="268.40" r="1.1" fill="#4a86d6" stroke="none" stroke-width="0.4"/>
<circle cx="343.50" cy="242.80" r="1.1" fill="#4a86d6" stroke="none" stroke-width="0.4"/>
<circle cx="345.12" cy="243.92" r="1.1" fill="#4a86d6" stroke="none" stroke-width="0.4"/>
<circle cx="346.74" cy="245.04" r="1.1" fill="#4a86d6" stroke="none" stroke-width="0.4"/>
<circle cx="348.35" cy="246.15" r="1.1" fill="#4a86d6" stroke="none" stroke-width="0.4"/>
<circle cx="349.97" cy="247.27" r="1.1" fill="#4a86d6" stroke="none" stroke-width="0.4"/>
<circle cx="351.59" cy="248.39" r="1.1" fill="#4a86d6" stroke="none" stroke-width="0.4"/>
<circle cx="353.21" cy="249.51" r="1.1" fill="#4a86d6" stroke="none" stroke-width="0.4"/>
<circle cx="354.82" cy="250.62" r="1.1" fill="#4a86d6" stroke="none" stroke-width="0.4"/>
<circle cx="356.44" cy="251.74" r="1.1" fill="#4a86d6" stroke="none" stroke-width="0.4"/>
<circle cx="358.06" cy="252.86" r="1.1" fill="#4a86d6" stroke="none" stroke-width="0.4"/>
<circle cx="359.68" cy="253.98" r="1.1" fill="#4a86d6" stroke="none" stroke-width="0.4"/>
<circle cx="361.29" cy="255.09" r="1.1" fill="#4a86d6" stroke="none" stroke-width="0.4"/>
<circle cx="362.91" cy="256.21" r="1.1" fill="#4a86d6" stroke="none" stroke-width="0.4"/>
<circle cx="364.53" cy="257.33" r="1.1" fill="#4a86d6" stroke="none" stroke-width="0.4"/>
<circle cx="366.15" cy="258.45" r="1.1" fill="#4a86d6" stroke="none" stroke-width="0.4"/>
<circle cx="367.76" cy="259.56" r="1.1" fill="#4a86d6" stroke="none" stroke-width="0.4"/>
<circle cx="369.38" cy="260.68" r="1.1" fill="#4a86d6" stroke="none" stroke-width="0.4"/>
<circle cx="371.00" cy="261.80" r="1.1" fill="#4a86d6" stroke="none" stroke-width="0.4"/>
<circle cx="352.20" cy="253.60" r="1.1" fill="#4a86d6" stroke="none" stroke-width="0.4"/>
<circle cx="353.40" cy="254.65" r="1.1" fill="#4a86d6" stroke="none" stroke-width="0.4"/>
<circle cx="354.60" cy="255.70" r="1.1" fill="#4a86d6" stroke="none" stroke-width="0.4"/>
<circle cx="355.80" cy="256.75" r="1.1" fill="#4a86d6" stroke="none" stroke-width="0.4"/>
<circle cx="357.00" cy="257.80" r="1.1" fill="#4a86d6" stroke="none" stroke-width="0.4"/>
<text x="322.60" y="298.20" font-size="8.2" text-anchor="middle" font-weight="bold" fill="#000" stroke="#000" stroke-width="0.3">l</text>
<line x1="423.00" y1="232.90" x2="423.00" y2="283.50" stroke="#444" stroke-width="0.85"/>
<line x1="421.90" y1="283.20" x2="423.00" y2="283.20" stroke="#444" stroke-width="0.85"/>
<text x="421.40" y="284.42" font-size="3.4" text-anchor="end" font-weight="bold" fill="#000" stroke="#000" stroke-width="0.15">0</text>
<line x1="421.90" y1="273.20" x2="423.00" y2="273.20" stroke="#444" stroke-width="0.85"/>
<text x="421.40" y="274.42" font-size="3.4" text-anchor="end" font-weight="bold" fill="#000" stroke="#000" stroke-width="0.15">1</text>
<line x1="421.90" y1="263.20" x2="423.00" y2="263.20" stroke="#444" stroke-width="0.85"/>
<text x="421.40" y="264.42" font-size="3.4" text-anchor="end" font-weight="bold" fill="#000" stroke="#000" stroke-width="0.15">2</text>
<line x1="421.90" y1="253.20" x2="423.00" y2="253.20" stroke="#444" stroke-width="0.85"/>
<text x="421.40" y="254.42" font-size="3.4" text-anchor="end" font-weight="bold" fill="#000" stroke="#000" stroke-width="0.15">3</text>
<line x1="421.90" y1="243.20" x2="423.00" y2="243.20" stroke="#444" stroke-width="0.85"/>
<text x="421.40" y="244.42" font-size="3.4" text-anchor="end" font-weight="bold" fill="#000" stroke="#000" stroke-width="0.15">4</text>
<line x1="421.90" y1="233.20" x2="423.00" y2="233.20" stroke="#444" stroke-width="0.85"/>
<text x="421.40" y="234.42" font-size="3.4" text-anchor="end" font-weight="bold" fill="#000" stroke="#000" stroke-width="0.15">5</text>
<line x1="422.70" y1="283.20" x2="483.50" y2="283.20" stroke="#444" stroke-width="0.85"/>
<line x1="423.00" y1="283.20" x2="423.00" y2="284.30" stroke="#444" stroke-width="0.75"/>
<text x="423.00" y="288.70" font-size="3.3" text-anchor="middle" font-weight="bold" fill="#000" stroke="#000" stroke-width="0.15">0</text>
<line x1="435.10" y1="283.20" x2="435.10" y2="284.30" stroke="#444" stroke-width="0.75"/>
<text x="435.10" y="288.70" font-size="3.3" text-anchor="middle" font-weight="bold" fill="#000" stroke="#000" stroke-width="0.15">1</text>
<line x1="447.20" y1="283.20" x2="447.20" y2="284.30" stroke="#444" stroke-width="0.75"/>
<text x="447.20" y="288.70" font-size="3.3" text-anchor="middle" font-weight="bold" fill="#000" stroke="#000" stroke-width="0.15">2</text>
<line x1="459.30" y1="283.20" x2="459.30" y2="284.30" stroke="#444" stroke-width="0.75"/>
<text x="459.30" y="288.70" font-size="3.3" text-anchor="middle" font-weight="bold" fill="#000" stroke="#000" stroke-width="0.15">3</text>
<line x1="471.40" y1="283.20" x2="471.40" y2="284.30" stroke="#444" stroke-width="0.75"/>
<text x="471.40" y="288.70" font-size="3.3" text-anchor="middle" font-weight="bold" fill="#000" stroke="#000" stroke-width="0.15">4</text>
<line x1="483.50" y1="283.20" x2="483.50" y2="284.30" stroke="#444" stroke-width="0.75"/>
<text x="483.50" y="288.70" font-size="3.3" text-anchor="middle" font-weight="bold" fill="#000" stroke="#000" stroke-width="0.15">5</text>
<text x="415.30" y="258.20" font-size="4.65" text-anchor="middle" font-weight="bold" fill="#000" stroke="#000" stroke-width="0.05" transform="rotate(-90 415.30 258.20)">Relative circ_0008035 level</text>
<text x="453.00" y="295.80" font-size="4.77" text-anchor="middle" font-weight="bold" fill="#000" stroke="#000" stroke-width="0.1">Relative RAP2B mRNA level</text>
<text x="453.00" y="226.20" font-size="4.78" text-anchor="middle" font-weight="bold" fill="#000" font-style="italic">P&lt;0.0001,r=0.7638</text>
<polyline points="432.8,268.4 475.8,242.3" fill="none" stroke="#333" stroke-width="0.7"/>
<circle cx="432.80" cy="271.60" r="1.1" fill="#4a86d6" stroke="none" stroke-width="0.4"/>
<circle cx="433.70" cy="263.30" r="1.1" fill="#4a86d6" stroke="none" stroke-width="0.4"/>
<circle cx="436.30" cy="253.10" r="1.1" fill="#4a86d6" stroke="none" stroke-width="0.4"/>
<circle cx="437.20" cy="260.30" r="1.1" fill="#4a86d6" stroke="none" stroke-width="0.4"/>
<circle cx="439.40" cy="255.80" r="1.1" fill="#4a86d6" stroke="none" stroke-width="0.4"/>
<circle cx="439.00" cy="265.70" r="1.1" fill="#4a86d6" stroke="none" stroke-width="0.4"/>
<circle cx="440.80" cy="263.00" r="1.1" fill="#4a86d6" stroke="none" stroke-width="0.4"/>
<circle cx="441.70" cy="266.60" r="1.1" fill="#4a86d6" stroke="none" stroke-width="0.4"/>
<circle cx="442.60" cy="269.20" r="1.1" fill="#4a86d6" stroke="none" stroke-width="0.4"/>
<circle cx="443.50" cy="264.80" r="1.1" fill="#4a86d6" stroke="none" stroke-width="0.4"/>
<circle cx="444.40" cy="271.00" r="1.1" fill="#4a86d6" stroke="none" stroke-width="0.4"/>
<circle cx="445.30" cy="262.10" r="1.1" fill="#4a86d6" stroke="none" stroke-width="0.4"/>
<circle cx="446.20" cy="266.60" r="1.1" fill="#4a86d6" stroke="none" stroke-width="0.4"/>
<circle cx="448.00" cy="260.30" r="1.1" fill="#4a86d6" stroke="none" stroke-width="0.4"/>
<circle cx="448.90" cy="257.60" r="1.1" fill="#4a86d6" stroke="none" stroke-width="0.4"/>
<circle cx="449.80" cy="247.70" r="1.1" fill="#4a86d6" stroke="none" stroke-width="0.4"/>
<circle cx="450.70" cy="249.50" r="1.1" fill="#4a86d6" stroke="none" stroke-width="0.4"/>
<circle cx="451.60" cy="254.90" r="1.1" fill="#4a86d6" stroke="none" stroke-width="0.4"/>
<circle cx="453.40" cy="251.30" r="1.1" fill="#4a86d6" stroke="none" stroke-width="0.4"/>
<circle cx="452.50" cy="254.00" r="1.1" fill="#4a86d6" stroke="none" stroke-width="0.4"/>
<circle cx="454.30" cy="260.30" r="1.1" fill="#4a86d6" stroke="none" stroke-width="0.4"/>
<circle cx="455.20" cy="250.40" r="1.1" fill="#4a86d6" stroke="none" stroke-width="0.4"/>
<circle cx="456.10" cy="258.50" r="1.1" fill="#4a86d6" stroke="none" stroke-width="0.4"/>
<circle cx="457.00" cy="249.50" r="1.1" fill="#4a86d6" stroke="none" stroke-width="0.4"/>
<circle cx="457.90" cy="245.90" r="1.1" fill="#4a86d6" stroke="none" stroke-width="0.4"/>
<circle cx="458.80" cy="264.80" r="1.1" fill="#4a86d6" stroke="none" stroke-width="0.4"/>
<circle cx="459.70" cy="268.40" r="1.1" fill="#4a86d6" stroke="none" stroke-width="0.4"/>
<circle cx="460.60" cy="256.70" r="1.1" fill="#4a86d6" stroke="none" stroke-width="0.4"/>
<circle cx="459.70" cy="245.90" r="1.1" fill="#4a86d6" stroke="none" stroke-width="0.4"/>
<circle cx="461.80" cy="242.30" r="1.1" fill="#4a86d6" stroke="none" stroke-width="0.4"/>
<circle cx="462.40" cy="251.30" r="1.1" fill="#4a86d6" stroke="none" stroke-width="0.4"/>
<circle cx="463.20" cy="261.20" r="1.1" fill="#4a86d6" stroke="none" stroke-width="0.4"/>
<circle cx="464.10" cy="253.10" r="1.1" fill="#4a86d6" stroke="none" stroke-width="0.4"/>
<circle cx="465.00" cy="250.40" r="1.1" fill="#4a86d6" stroke="none" stroke-width="0.4"/>
<circle cx="466.80" cy="245.00" r="1.1" fill="#4a86d6" stroke="none" stroke-width="0.4"/>
<circle cx="467.70" cy="247.70" r="1.1" fill="#4a86d6" stroke="none" stroke-width="0.4"/>
<circle cx="469.50" cy="242.30" r="1.1" fill="#4a86d6" stroke="none" stroke-width="0.4"/>
<circle cx="470.40" cy="249.50" r="1.1" fill="#4a86d6" stroke="none" stroke-width="0.4"/>
<circle cx="472.20" cy="240.60" r="1.1" fill="#4a86d6" stroke="none" stroke-width="0.4"/>
<circle cx="474.00" cy="239.70" r="1.1" fill="#4a86d6" stroke="none" stroke-width="0.4"/>
<circle cx="475.80" cy="238.80" r="1.1" fill="#4a86d6" stroke="none" stroke-width="0.4"/>
<circle cx="447.00" cy="258.50" r="1.1" fill="#4a86d6" stroke="none" stroke-width="0.4"/>
<circle cx="449.50" cy="261.50" r="1.1" fill="#4a86d6" stroke="none" stroke-width="0.4"/>
<circle cx="452.00" cy="259.00" r="1.1" fill="#4a86d6" stroke="none" stroke-width="0.4"/>
<circle cx="454.00" cy="256.00" r="1.1" fill="#4a86d6" stroke="none" stroke-width="0.4"/>
<circle cx="456.00" cy="255.50" r="1.1" fill="#4a86d6" stroke="none" stroke-width="0.4"/>
<circle cx="458.20" cy="253.00" r="1.1" fill="#4a86d6" stroke="none" stroke-width="0.4"/>
<circle cx="460.50" cy="251.50" r="1.1" fill="#4a86d6" stroke="none" stroke-width="0.4"/>
<circle cx="463.00" cy="249.00" r="1.1" fill="#4a86d6" stroke="none" stroke-width="0.4"/>
<circle cx="465.50" cy="247.50" r="1.1" fill="#4a86d6" stroke="none" stroke-width="0.4"/>
<circle cx="467.80" cy="244.50" r="1.1" fill="#4a86d6" stroke="none" stroke-width="0.4"/>
<circle cx="471.00" cy="243.50" r="1.1" fill="#4a86d6" stroke="none" stroke-width="0.4"/>
<circle cx="444.20" cy="258.50" r="1.1" fill="#4a86d6" stroke="none" stroke-width="0.4"/>
<circle cx="441.30" cy="260.80" r="1.1" fill="#4a86d6" stroke="none" stroke-width="0.4"/>
<circle cx="438.20" cy="262.20" r="1.1" fill="#4a86d6" stroke="none" stroke-width="0.4"/>
<circle cx="462.50" cy="244.50" r="1.1" fill="#4a86d6" stroke="none" stroke-width="0.4"/>
<circle cx="468.50" cy="241.50" r="1.1" fill="#4a86d6" stroke="none" stroke-width="0.4"/>
<text x="414.80" y="298.50" font-size="7.6" text-anchor="middle" font-weight="bold" fill="#000" stroke="#000" stroke-width="0.3">m</text>
</svg>
</body></html>
